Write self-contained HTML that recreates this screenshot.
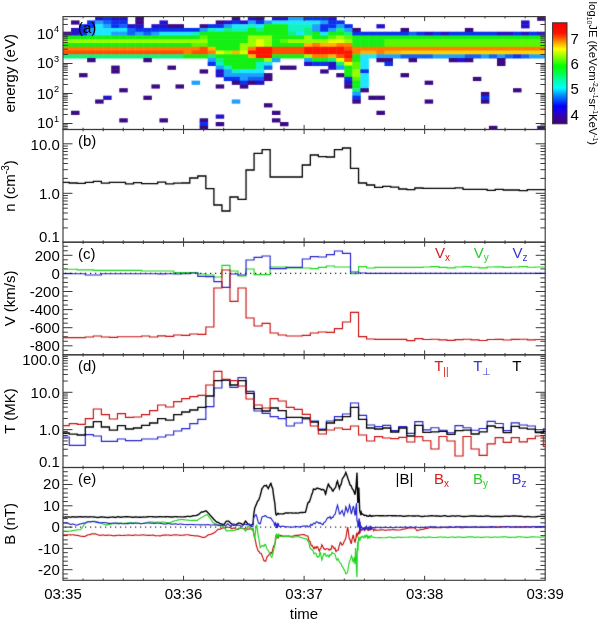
<!DOCTYPE html>
<html><head><meta charset="utf-8"><style>
html,body{margin:0;padding:0;background:#fff;}
svg{display:block;will-change:transform;}
text{font-family:"Liberation Sans",sans-serif;}
</style></head><body>
<svg width="600" height="623" viewBox="0 0 600 623">
<defs><filter id="soft" x="0" y="0" width="600" height="623" filterUnits="userSpaceOnUse" color-interpolation-filters="sRGB"><feConvolveMatrix order="3" kernelMatrix="1 2 1 2 28 2 1 2 1" divisor="40" edgeMode="duplicate"/></filter><clipPath id="clipA"><rect x="63.00" y="16.60" width="482.20" height="112.90"/></clipPath></defs>
<rect x="0" y="0" width="600" height="623" fill="#fff"/>
<g clip-path="url(#clipA)"><g filter="url(#soft)">
<rect x="63.00" y="31.71" width="8.49" height="4.21" fill="#3c0a84"/>
<rect x="63.00" y="35.47" width="8.49" height="4.21" fill="#14f014"/>
<rect x="63.00" y="39.23" width="8.49" height="4.21" fill="#96ff00"/>
<rect x="63.00" y="43.00" width="8.49" height="4.21" fill="#14f014"/>
<rect x="63.00" y="46.76" width="8.49" height="4.21" fill="#ff7e00"/>
<rect x="63.00" y="50.53" width="8.49" height="4.21" fill="#ff4e00"/>
<rect x="63.00" y="54.29" width="8.49" height="4.21" fill="#10f27e"/>
<rect x="71.04" y="20.41" width="8.49" height="4.21" fill="#3c0a84"/>
<rect x="71.04" y="27.94" width="8.49" height="4.21" fill="#2612c8"/>
<rect x="71.04" y="31.71" width="8.49" height="4.21" fill="#2612c8"/>
<rect x="71.04" y="35.47" width="8.49" height="4.21" fill="#14f014"/>
<rect x="71.04" y="39.23" width="8.49" height="4.21" fill="#96ff00"/>
<rect x="71.04" y="43.00" width="8.49" height="4.21" fill="#14f014"/>
<rect x="71.04" y="46.76" width="8.49" height="4.21" fill="#ff7e00"/>
<rect x="71.04" y="50.53" width="8.49" height="4.21" fill="#ff4e00"/>
<rect x="71.04" y="54.29" width="8.49" height="4.21" fill="#10f27e"/>
<rect x="79.07" y="24.18" width="8.49" height="4.21" fill="#0a32f0"/>
<rect x="79.07" y="27.94" width="8.49" height="4.21" fill="#0a32f0"/>
<rect x="79.07" y="31.71" width="8.49" height="4.21" fill="#0a32f0"/>
<rect x="79.07" y="35.47" width="8.49" height="4.21" fill="#14f014"/>
<rect x="79.07" y="39.23" width="8.49" height="4.21" fill="#96ff00"/>
<rect x="79.07" y="43.00" width="8.49" height="4.21" fill="#14f014"/>
<rect x="79.07" y="46.76" width="8.49" height="4.21" fill="#ff7e00"/>
<rect x="79.07" y="50.53" width="8.49" height="4.21" fill="#ff4e00"/>
<rect x="79.07" y="54.29" width="8.49" height="4.21" fill="#10f27e"/>
<rect x="87.11" y="20.41" width="8.49" height="4.21" fill="#0a32f0"/>
<rect x="87.11" y="24.18" width="8.49" height="4.21" fill="#0a32f0"/>
<rect x="87.11" y="27.94" width="8.49" height="4.21" fill="#1ea0ff"/>
<rect x="87.11" y="31.71" width="8.49" height="4.21" fill="#1ea0ff"/>
<rect x="87.11" y="35.47" width="8.49" height="4.21" fill="#14f014"/>
<rect x="87.11" y="39.23" width="8.49" height="4.21" fill="#96ff00"/>
<rect x="87.11" y="43.00" width="8.49" height="4.21" fill="#14f014"/>
<rect x="87.11" y="46.76" width="8.49" height="4.21" fill="#ff7e00"/>
<rect x="87.11" y="50.53" width="8.49" height="4.21" fill="#ff4e00"/>
<rect x="87.11" y="54.29" width="8.49" height="4.21" fill="#10f27e"/>
<rect x="95.15" y="16.65" width="8.49" height="4.21" fill="#2612c8"/>
<rect x="95.15" y="20.41" width="8.49" height="4.21" fill="#1ea0ff"/>
<rect x="95.15" y="24.18" width="8.49" height="4.21" fill="#1ee6ff"/>
<rect x="95.15" y="27.94" width="8.49" height="4.21" fill="#1ee6ff"/>
<rect x="95.15" y="31.71" width="8.49" height="4.21" fill="#1ee6ff"/>
<rect x="95.15" y="35.47" width="8.49" height="4.21" fill="#14f014"/>
<rect x="95.15" y="39.23" width="8.49" height="4.21" fill="#96ff00"/>
<rect x="95.15" y="43.00" width="8.49" height="4.21" fill="#14f014"/>
<rect x="95.15" y="46.76" width="8.49" height="4.21" fill="#ff7e00"/>
<rect x="95.15" y="50.53" width="8.49" height="4.21" fill="#ff4e00"/>
<rect x="95.15" y="54.29" width="8.49" height="4.21" fill="#10f27e"/>
<rect x="103.18" y="16.65" width="8.49" height="4.21" fill="#0a32f0"/>
<rect x="103.18" y="20.41" width="8.49" height="4.21" fill="#1262f8"/>
<rect x="103.18" y="24.18" width="8.49" height="4.21" fill="#1ea0ff"/>
<rect x="103.18" y="27.94" width="8.49" height="4.21" fill="#1ee6ff"/>
<rect x="103.18" y="31.71" width="8.49" height="4.21" fill="#1ee6ff"/>
<rect x="103.18" y="35.47" width="8.49" height="4.21" fill="#14f014"/>
<rect x="103.18" y="39.23" width="8.49" height="4.21" fill="#96ff00"/>
<rect x="103.18" y="43.00" width="8.49" height="4.21" fill="#14f014"/>
<rect x="103.18" y="46.76" width="8.49" height="4.21" fill="#ff7e00"/>
<rect x="103.18" y="50.53" width="8.49" height="4.21" fill="#ff4e00"/>
<rect x="103.18" y="54.29" width="8.49" height="4.21" fill="#10f27e"/>
<rect x="111.22" y="16.65" width="8.49" height="4.21" fill="#2612c8"/>
<rect x="111.22" y="20.41" width="8.49" height="4.21" fill="#0a32f0"/>
<rect x="111.22" y="24.18" width="8.49" height="4.21" fill="#0a32f0"/>
<rect x="111.22" y="27.94" width="8.49" height="4.21" fill="#1ee6ff"/>
<rect x="111.22" y="31.71" width="8.49" height="4.21" fill="#1ea0ff"/>
<rect x="111.22" y="35.47" width="8.49" height="4.21" fill="#14f014"/>
<rect x="111.22" y="39.23" width="8.49" height="4.21" fill="#96ff00"/>
<rect x="111.22" y="43.00" width="8.49" height="4.21" fill="#14f014"/>
<rect x="111.22" y="46.76" width="8.49" height="4.21" fill="#ff7e00"/>
<rect x="111.22" y="50.53" width="8.49" height="4.21" fill="#ff4e00"/>
<rect x="111.22" y="54.29" width="8.49" height="4.21" fill="#10f27e"/>
<rect x="119.26" y="16.65" width="8.49" height="4.21" fill="#2612c8"/>
<rect x="119.26" y="20.41" width="8.49" height="4.21" fill="#0a32f0"/>
<rect x="119.26" y="24.18" width="8.49" height="4.21" fill="#1262f8"/>
<rect x="119.26" y="27.94" width="8.49" height="4.21" fill="#1ee6ff"/>
<rect x="119.26" y="31.71" width="8.49" height="4.21" fill="#1ea0ff"/>
<rect x="119.26" y="35.47" width="8.49" height="4.21" fill="#14f014"/>
<rect x="119.26" y="39.23" width="8.49" height="4.21" fill="#96ff00"/>
<rect x="119.26" y="43.00" width="8.49" height="4.21" fill="#14f014"/>
<rect x="119.26" y="46.76" width="8.49" height="4.21" fill="#ff7e00"/>
<rect x="119.26" y="50.53" width="8.49" height="4.21" fill="#ff4e00"/>
<rect x="119.26" y="54.29" width="8.49" height="4.21" fill="#10f27e"/>
<rect x="127.29" y="24.18" width="8.49" height="4.21" fill="#2612c8"/>
<rect x="127.29" y="27.94" width="8.49" height="4.21" fill="#1262f8"/>
<rect x="127.29" y="31.71" width="8.49" height="4.21" fill="#1262f8"/>
<rect x="127.29" y="35.47" width="8.49" height="4.21" fill="#14f014"/>
<rect x="127.29" y="39.23" width="8.49" height="4.21" fill="#96ff00"/>
<rect x="127.29" y="43.00" width="8.49" height="4.21" fill="#14f014"/>
<rect x="127.29" y="46.76" width="8.49" height="4.21" fill="#ff7e00"/>
<rect x="127.29" y="50.53" width="8.49" height="4.21" fill="#ff4e00"/>
<rect x="127.29" y="54.29" width="8.49" height="4.21" fill="#10f27e"/>
<rect x="135.33" y="16.65" width="8.49" height="4.21" fill="#3c0a84"/>
<rect x="135.33" y="20.41" width="8.49" height="4.21" fill="#3c0a84"/>
<rect x="135.33" y="24.18" width="8.49" height="4.21" fill="#2612c8"/>
<rect x="135.33" y="27.94" width="8.49" height="4.21" fill="#0a32f0"/>
<rect x="135.33" y="31.71" width="8.49" height="4.21" fill="#1ea0ff"/>
<rect x="135.33" y="35.47" width="8.49" height="4.21" fill="#14f014"/>
<rect x="135.33" y="39.23" width="8.49" height="4.21" fill="#96ff00"/>
<rect x="135.33" y="43.00" width="8.49" height="4.21" fill="#14f014"/>
<rect x="135.33" y="46.76" width="8.49" height="4.21" fill="#ff7e00"/>
<rect x="135.33" y="50.53" width="8.49" height="4.21" fill="#ff4e00"/>
<rect x="135.33" y="54.29" width="8.49" height="4.21" fill="#10f27e"/>
<rect x="143.37" y="27.94" width="8.49" height="4.21" fill="#0a32f0"/>
<rect x="143.37" y="31.71" width="8.49" height="4.21" fill="#1262f8"/>
<rect x="143.37" y="35.47" width="8.49" height="4.21" fill="#14f014"/>
<rect x="143.37" y="39.23" width="8.49" height="4.21" fill="#96ff00"/>
<rect x="143.37" y="43.00" width="8.49" height="4.21" fill="#14f014"/>
<rect x="143.37" y="46.76" width="8.49" height="4.21" fill="#ff7e00"/>
<rect x="143.37" y="50.53" width="8.49" height="4.21" fill="#ff4e00"/>
<rect x="143.37" y="54.29" width="8.49" height="4.21" fill="#10f27e"/>
<rect x="151.40" y="24.18" width="8.49" height="4.21" fill="#2612c8"/>
<rect x="151.40" y="27.94" width="8.49" height="4.21" fill="#0a32f0"/>
<rect x="151.40" y="31.71" width="8.49" height="4.21" fill="#1ea0ff"/>
<rect x="151.40" y="35.47" width="8.49" height="4.21" fill="#14f014"/>
<rect x="151.40" y="39.23" width="8.49" height="4.21" fill="#96ff00"/>
<rect x="151.40" y="43.00" width="8.49" height="4.21" fill="#14f014"/>
<rect x="151.40" y="46.76" width="8.49" height="4.21" fill="#ff7e00"/>
<rect x="151.40" y="50.53" width="8.49" height="4.21" fill="#ff4e00"/>
<rect x="151.40" y="54.29" width="8.49" height="4.21" fill="#10f27e"/>
<rect x="159.44" y="20.41" width="8.49" height="4.21" fill="#2612c8"/>
<rect x="159.44" y="24.18" width="8.49" height="4.21" fill="#2612c8"/>
<rect x="159.44" y="27.94" width="8.49" height="4.21" fill="#0a32f0"/>
<rect x="159.44" y="31.71" width="8.49" height="4.21" fill="#1ee6ff"/>
<rect x="159.44" y="35.47" width="8.49" height="4.21" fill="#14f014"/>
<rect x="159.44" y="39.23" width="8.49" height="4.21" fill="#96ff00"/>
<rect x="159.44" y="43.00" width="8.49" height="4.21" fill="#14f014"/>
<rect x="159.44" y="46.76" width="8.49" height="4.21" fill="#ff7e00"/>
<rect x="159.44" y="50.53" width="8.49" height="4.21" fill="#ff4e00"/>
<rect x="159.44" y="54.29" width="8.49" height="4.21" fill="#10f27e"/>
<rect x="167.48" y="24.18" width="8.49" height="4.21" fill="#3c0a84"/>
<rect x="167.48" y="27.94" width="8.49" height="4.21" fill="#0a32f0"/>
<rect x="167.48" y="31.71" width="8.49" height="4.21" fill="#1ee6ff"/>
<rect x="167.48" y="35.47" width="8.49" height="4.21" fill="#14f014"/>
<rect x="167.48" y="39.23" width="8.49" height="4.21" fill="#96ff00"/>
<rect x="167.48" y="43.00" width="8.49" height="4.21" fill="#14f014"/>
<rect x="167.48" y="46.76" width="8.49" height="4.21" fill="#ff7e00"/>
<rect x="167.48" y="50.53" width="8.49" height="4.21" fill="#ff4e00"/>
<rect x="167.48" y="54.29" width="8.49" height="4.21" fill="#10f27e"/>
<rect x="175.51" y="24.18" width="8.49" height="4.21" fill="#3c0a84"/>
<rect x="175.51" y="27.94" width="8.49" height="4.21" fill="#0a32f0"/>
<rect x="175.51" y="31.71" width="8.49" height="4.21" fill="#1ee6ff"/>
<rect x="175.51" y="35.47" width="8.49" height="4.21" fill="#14f014"/>
<rect x="175.51" y="39.23" width="8.49" height="4.21" fill="#96ff00"/>
<rect x="175.51" y="43.00" width="8.49" height="4.21" fill="#14f014"/>
<rect x="175.51" y="46.76" width="8.49" height="4.21" fill="#ff7e00"/>
<rect x="175.51" y="50.53" width="8.49" height="4.21" fill="#ff4e00"/>
<rect x="175.51" y="54.29" width="8.49" height="4.21" fill="#10f27e"/>
<rect x="183.55" y="27.94" width="8.49" height="4.21" fill="#0a32f0"/>
<rect x="183.55" y="31.71" width="8.49" height="4.21" fill="#1ee6ff"/>
<rect x="183.55" y="35.47" width="8.49" height="4.21" fill="#14f014"/>
<rect x="183.55" y="39.23" width="8.49" height="4.21" fill="#96ff00"/>
<rect x="183.55" y="43.00" width="8.49" height="4.21" fill="#14f014"/>
<rect x="183.55" y="46.76" width="8.49" height="4.21" fill="#ff7e00"/>
<rect x="183.55" y="50.53" width="8.49" height="4.21" fill="#ff7e00"/>
<rect x="183.55" y="54.29" width="8.49" height="4.21" fill="#14f014"/>
<rect x="191.59" y="27.94" width="8.49" height="4.21" fill="#0a32f0"/>
<rect x="191.59" y="31.71" width="8.49" height="4.21" fill="#10f2c0"/>
<rect x="191.59" y="35.47" width="8.49" height="4.21" fill="#14f014"/>
<rect x="191.59" y="39.23" width="8.49" height="4.21" fill="#96ff00"/>
<rect x="191.59" y="43.00" width="8.49" height="4.21" fill="#58f800"/>
<rect x="191.59" y="46.76" width="8.49" height="4.21" fill="#ff7e00"/>
<rect x="191.59" y="50.53" width="8.49" height="4.21" fill="#ff4e00"/>
<rect x="191.59" y="54.29" width="8.49" height="4.21" fill="#14f014"/>
<rect x="199.62" y="24.18" width="8.49" height="4.21" fill="#3c0a84"/>
<rect x="199.62" y="27.94" width="8.49" height="4.21" fill="#1ea0ff"/>
<rect x="199.62" y="31.71" width="8.49" height="4.21" fill="#14f014"/>
<rect x="199.62" y="35.47" width="8.49" height="4.21" fill="#58f800"/>
<rect x="199.62" y="39.23" width="8.49" height="4.21" fill="#96ff00"/>
<rect x="199.62" y="43.00" width="8.49" height="4.21" fill="#58f800"/>
<rect x="199.62" y="46.76" width="8.49" height="4.21" fill="#ff4e00"/>
<rect x="199.62" y="50.53" width="8.49" height="4.21" fill="#ff4e00"/>
<rect x="199.62" y="54.29" width="8.49" height="4.21" fill="#14f014"/>
<rect x="207.66" y="24.18" width="8.49" height="4.21" fill="#0a32f0"/>
<rect x="207.66" y="27.94" width="8.49" height="4.21" fill="#10f2c0"/>
<rect x="207.66" y="31.71" width="8.49" height="4.21" fill="#14f014"/>
<rect x="207.66" y="35.47" width="8.49" height="4.21" fill="#14f014"/>
<rect x="207.66" y="39.23" width="8.49" height="4.21" fill="#14f014"/>
<rect x="207.66" y="43.00" width="8.49" height="4.21" fill="#14f014"/>
<rect x="207.66" y="46.76" width="8.49" height="4.21" fill="#ffb400"/>
<rect x="207.66" y="50.53" width="8.49" height="4.21" fill="#ff7e00"/>
<rect x="207.66" y="54.29" width="8.49" height="4.21" fill="#10f27e"/>
<rect x="215.70" y="20.41" width="8.49" height="4.21" fill="#3c0a84"/>
<rect x="215.70" y="24.18" width="8.49" height="4.21" fill="#0a32f0"/>
<rect x="215.70" y="27.94" width="8.49" height="4.21" fill="#1ee6ff"/>
<rect x="215.70" y="31.71" width="8.49" height="4.21" fill="#14f014"/>
<rect x="215.70" y="35.47" width="8.49" height="4.21" fill="#14f014"/>
<rect x="215.70" y="39.23" width="8.49" height="4.21" fill="#14f014"/>
<rect x="215.70" y="43.00" width="8.49" height="4.21" fill="#14f014"/>
<rect x="215.70" y="46.76" width="8.49" height="4.21" fill="#14f014"/>
<rect x="215.70" y="50.53" width="8.49" height="4.21" fill="#e6ff00"/>
<rect x="215.70" y="54.29" width="8.49" height="4.21" fill="#14f014"/>
<rect x="223.73" y="20.41" width="8.49" height="4.21" fill="#2612c8"/>
<rect x="223.73" y="24.18" width="8.49" height="4.21" fill="#1ea0ff"/>
<rect x="223.73" y="27.94" width="8.49" height="4.21" fill="#10f27e"/>
<rect x="223.73" y="31.71" width="8.49" height="4.21" fill="#14f014"/>
<rect x="223.73" y="35.47" width="8.49" height="4.21" fill="#14f014"/>
<rect x="223.73" y="39.23" width="8.49" height="4.21" fill="#14f014"/>
<rect x="223.73" y="43.00" width="8.49" height="4.21" fill="#14f014"/>
<rect x="223.73" y="46.76" width="8.49" height="4.21" fill="#14f014"/>
<rect x="223.73" y="50.53" width="8.49" height="4.21" fill="#96ff00"/>
<rect x="223.73" y="54.29" width="8.49" height="4.21" fill="#14f014"/>
<rect x="231.77" y="16.65" width="8.49" height="4.21" fill="#3c0a84"/>
<rect x="231.77" y="20.41" width="8.49" height="4.21" fill="#0a32f0"/>
<rect x="231.77" y="24.18" width="8.49" height="4.21" fill="#1ee6ff"/>
<rect x="231.77" y="27.94" width="8.49" height="4.21" fill="#10f2c0"/>
<rect x="231.77" y="31.71" width="8.49" height="4.21" fill="#14f014"/>
<rect x="231.77" y="35.47" width="8.49" height="4.21" fill="#14f014"/>
<rect x="231.77" y="39.23" width="8.49" height="4.21" fill="#14f014"/>
<rect x="231.77" y="43.00" width="8.49" height="4.21" fill="#14f014"/>
<rect x="231.77" y="46.76" width="8.49" height="4.21" fill="#14f014"/>
<rect x="231.77" y="50.53" width="8.49" height="4.21" fill="#ffb400"/>
<rect x="231.77" y="54.29" width="8.49" height="4.21" fill="#14f014"/>
<rect x="239.81" y="20.41" width="8.49" height="4.21" fill="#2612c8"/>
<rect x="239.81" y="24.18" width="8.49" height="4.21" fill="#1ee6ff"/>
<rect x="239.81" y="27.94" width="8.49" height="4.21" fill="#10f2c0"/>
<rect x="239.81" y="31.71" width="8.49" height="4.21" fill="#14f014"/>
<rect x="239.81" y="35.47" width="8.49" height="4.21" fill="#14f014"/>
<rect x="239.81" y="39.23" width="8.49" height="4.21" fill="#14f014"/>
<rect x="239.81" y="43.00" width="8.49" height="4.21" fill="#96ff00"/>
<rect x="239.81" y="46.76" width="8.49" height="4.21" fill="#96ff00"/>
<rect x="239.81" y="50.53" width="8.49" height="4.21" fill="#e6ff00"/>
<rect x="239.81" y="54.29" width="8.49" height="4.21" fill="#14f014"/>
<rect x="247.84" y="16.65" width="8.49" height="4.21" fill="#2612c8"/>
<rect x="247.84" y="20.41" width="8.49" height="4.21" fill="#1ea0ff"/>
<rect x="247.84" y="24.18" width="8.49" height="4.21" fill="#10f2c0"/>
<rect x="247.84" y="27.94" width="8.49" height="4.21" fill="#14f014"/>
<rect x="247.84" y="31.71" width="8.49" height="4.21" fill="#14f014"/>
<rect x="247.84" y="35.47" width="8.49" height="4.21" fill="#96ff00"/>
<rect x="247.84" y="39.23" width="8.49" height="4.21" fill="#96ff00"/>
<rect x="247.84" y="43.00" width="8.49" height="4.21" fill="#96ff00"/>
<rect x="247.84" y="46.76" width="8.49" height="4.21" fill="#ff7e00"/>
<rect x="247.84" y="50.53" width="8.49" height="4.21" fill="#ff1400"/>
<rect x="247.84" y="54.29" width="8.49" height="4.21" fill="#ffb400"/>
<rect x="255.88" y="16.65" width="8.49" height="4.21" fill="#3c0a84"/>
<rect x="255.88" y="20.41" width="8.49" height="4.21" fill="#0a32f0"/>
<rect x="255.88" y="24.18" width="8.49" height="4.21" fill="#1ee6ff"/>
<rect x="255.88" y="27.94" width="8.49" height="4.21" fill="#10f27e"/>
<rect x="255.88" y="31.71" width="8.49" height="4.21" fill="#14f014"/>
<rect x="255.88" y="35.47" width="8.49" height="4.21" fill="#96ff00"/>
<rect x="255.88" y="39.23" width="8.49" height="4.21" fill="#e6ff00"/>
<rect x="255.88" y="43.00" width="8.49" height="4.21" fill="#e6ff00"/>
<rect x="255.88" y="46.76" width="8.49" height="4.21" fill="#ff1400"/>
<rect x="255.88" y="50.53" width="8.49" height="4.21" fill="#ff1400"/>
<rect x="255.88" y="54.29" width="8.49" height="4.21" fill="#ff1400"/>
<rect x="263.92" y="20.41" width="8.49" height="4.21" fill="#1ea0ff"/>
<rect x="263.92" y="24.18" width="8.49" height="4.21" fill="#14f014"/>
<rect x="263.92" y="27.94" width="8.49" height="4.21" fill="#14f014"/>
<rect x="263.92" y="31.71" width="8.49" height="4.21" fill="#14f014"/>
<rect x="263.92" y="35.47" width="8.49" height="4.21" fill="#96ff00"/>
<rect x="263.92" y="39.23" width="8.49" height="4.21" fill="#96ff00"/>
<rect x="263.92" y="43.00" width="8.49" height="4.21" fill="#96ff00"/>
<rect x="263.92" y="46.76" width="8.49" height="4.21" fill="#ff1400"/>
<rect x="263.92" y="50.53" width="8.49" height="4.21" fill="#ff1400"/>
<rect x="263.92" y="54.29" width="8.49" height="4.21" fill="#ff1400"/>
<rect x="271.95" y="16.65" width="8.49" height="4.21" fill="#2612c8"/>
<rect x="271.95" y="20.41" width="8.49" height="4.21" fill="#1ee6ff"/>
<rect x="271.95" y="24.18" width="8.49" height="4.21" fill="#14f014"/>
<rect x="271.95" y="27.94" width="8.49" height="4.21" fill="#14f014"/>
<rect x="271.95" y="31.71" width="8.49" height="4.21" fill="#14f014"/>
<rect x="271.95" y="35.47" width="8.49" height="4.21" fill="#14f014"/>
<rect x="271.95" y="39.23" width="8.49" height="4.21" fill="#14f014"/>
<rect x="271.95" y="43.00" width="8.49" height="4.21" fill="#14f014"/>
<rect x="271.95" y="46.76" width="8.49" height="4.21" fill="#ff4e00"/>
<rect x="271.95" y="50.53" width="8.49" height="4.21" fill="#ff4e00"/>
<rect x="271.95" y="54.29" width="8.49" height="4.21" fill="#14f014"/>
<rect x="279.99" y="16.65" width="8.49" height="4.21" fill="#2612c8"/>
<rect x="279.99" y="20.41" width="8.49" height="4.21" fill="#1ee6ff"/>
<rect x="279.99" y="24.18" width="8.49" height="4.21" fill="#14f014"/>
<rect x="279.99" y="27.94" width="8.49" height="4.21" fill="#14f014"/>
<rect x="279.99" y="31.71" width="8.49" height="4.21" fill="#14f014"/>
<rect x="279.99" y="35.47" width="8.49" height="4.21" fill="#14f014"/>
<rect x="279.99" y="39.23" width="8.49" height="4.21" fill="#58f800"/>
<rect x="279.99" y="43.00" width="8.49" height="4.21" fill="#14f014"/>
<rect x="279.99" y="46.76" width="8.49" height="4.21" fill="#ff4e00"/>
<rect x="279.99" y="50.53" width="8.49" height="4.21" fill="#ff4e00"/>
<rect x="279.99" y="54.29" width="8.49" height="4.21" fill="#14f014"/>
<rect x="288.03" y="16.65" width="8.49" height="4.21" fill="#1ea0ff"/>
<rect x="288.03" y="20.41" width="8.49" height="4.21" fill="#1ee6ff"/>
<rect x="288.03" y="24.18" width="8.49" height="4.21" fill="#10f2c0"/>
<rect x="288.03" y="27.94" width="8.49" height="4.21" fill="#10f2c0"/>
<rect x="288.03" y="31.71" width="8.49" height="4.21" fill="#10f27e"/>
<rect x="288.03" y="35.47" width="8.49" height="4.21" fill="#14f014"/>
<rect x="288.03" y="39.23" width="8.49" height="4.21" fill="#96ff00"/>
<rect x="288.03" y="43.00" width="8.49" height="4.21" fill="#14f014"/>
<rect x="288.03" y="46.76" width="8.49" height="4.21" fill="#ff4e00"/>
<rect x="288.03" y="50.53" width="8.49" height="4.21" fill="#ff4e00"/>
<rect x="288.03" y="54.29" width="8.49" height="4.21" fill="#14f014"/>
<rect x="296.06" y="16.65" width="8.49" height="4.21" fill="#1ea0ff"/>
<rect x="296.06" y="20.41" width="8.49" height="4.21" fill="#1ee6ff"/>
<rect x="296.06" y="24.18" width="8.49" height="4.21" fill="#10f2c0"/>
<rect x="296.06" y="27.94" width="8.49" height="4.21" fill="#10f2c0"/>
<rect x="296.06" y="31.71" width="8.49" height="4.21" fill="#1ee6ff"/>
<rect x="296.06" y="35.47" width="8.49" height="4.21" fill="#14f014"/>
<rect x="296.06" y="39.23" width="8.49" height="4.21" fill="#96ff00"/>
<rect x="296.06" y="43.00" width="8.49" height="4.21" fill="#14f014"/>
<rect x="296.06" y="46.76" width="8.49" height="4.21" fill="#ff4e00"/>
<rect x="296.06" y="50.53" width="8.49" height="4.21" fill="#ff4e00"/>
<rect x="296.06" y="54.29" width="8.49" height="4.21" fill="#14f014"/>
<rect x="304.10" y="16.65" width="8.49" height="4.21" fill="#0a32f0"/>
<rect x="304.10" y="20.41" width="8.49" height="4.21" fill="#1ee6ff"/>
<rect x="304.10" y="24.18" width="8.49" height="4.21" fill="#10f2c0"/>
<rect x="304.10" y="27.94" width="8.49" height="4.21" fill="#10f27e"/>
<rect x="304.10" y="31.71" width="8.49" height="4.21" fill="#10f27e"/>
<rect x="304.10" y="35.47" width="8.49" height="4.21" fill="#96ff00"/>
<rect x="304.10" y="39.23" width="8.49" height="4.21" fill="#96ff00"/>
<rect x="304.10" y="43.00" width="8.49" height="4.21" fill="#ffb400"/>
<rect x="304.10" y="46.76" width="8.49" height="4.21" fill="#ff1400"/>
<rect x="304.10" y="50.53" width="8.49" height="4.21" fill="#ff1400"/>
<rect x="304.10" y="54.29" width="8.49" height="4.21" fill="#96ff00"/>
<rect x="312.14" y="16.65" width="8.49" height="4.21" fill="#0a32f0"/>
<rect x="312.14" y="20.41" width="8.49" height="4.21" fill="#1ee6ff"/>
<rect x="312.14" y="24.18" width="8.49" height="4.21" fill="#1ea0ff"/>
<rect x="312.14" y="27.94" width="8.49" height="4.21" fill="#1ea0ff"/>
<rect x="312.14" y="31.71" width="8.49" height="4.21" fill="#14f014"/>
<rect x="312.14" y="35.47" width="8.49" height="4.21" fill="#14f014"/>
<rect x="312.14" y="39.23" width="8.49" height="4.21" fill="#96ff00"/>
<rect x="312.14" y="43.00" width="8.49" height="4.21" fill="#ff7e00"/>
<rect x="312.14" y="46.76" width="8.49" height="4.21" fill="#ff1400"/>
<rect x="312.14" y="50.53" width="8.49" height="4.21" fill="#ff1400"/>
<rect x="312.14" y="54.29" width="8.49" height="4.21" fill="#ff7e00"/>
<rect x="320.17" y="16.65" width="8.49" height="4.21" fill="#0a32f0"/>
<rect x="320.17" y="20.41" width="8.49" height="4.21" fill="#1ea0ff"/>
<rect x="320.17" y="24.18" width="8.49" height="4.21" fill="#0a32f0"/>
<rect x="320.17" y="27.94" width="8.49" height="4.21" fill="#0a32f0"/>
<rect x="320.17" y="31.71" width="8.49" height="4.21" fill="#1ee6ff"/>
<rect x="320.17" y="35.47" width="8.49" height="4.21" fill="#14f014"/>
<rect x="320.17" y="39.23" width="8.49" height="4.21" fill="#96ff00"/>
<rect x="320.17" y="43.00" width="8.49" height="4.21" fill="#ffb400"/>
<rect x="320.17" y="46.76" width="8.49" height="4.21" fill="#ff1400"/>
<rect x="320.17" y="50.53" width="8.49" height="4.21" fill="#ff1400"/>
<rect x="320.17" y="54.29" width="8.49" height="4.21" fill="#ff7e00"/>
<rect x="328.21" y="16.65" width="8.49" height="4.21" fill="#2612c8"/>
<rect x="328.21" y="20.41" width="8.49" height="4.21" fill="#0a32f0"/>
<rect x="328.21" y="24.18" width="8.49" height="4.21" fill="#0a32f0"/>
<rect x="328.21" y="27.94" width="8.49" height="4.21" fill="#1ea0ff"/>
<rect x="328.21" y="31.71" width="8.49" height="4.21" fill="#14f014"/>
<rect x="328.21" y="35.47" width="8.49" height="4.21" fill="#58f800"/>
<rect x="328.21" y="39.23" width="8.49" height="4.21" fill="#e6ff00"/>
<rect x="328.21" y="43.00" width="8.49" height="4.21" fill="#ffb400"/>
<rect x="328.21" y="46.76" width="8.49" height="4.21" fill="#ff1400"/>
<rect x="328.21" y="50.53" width="8.49" height="4.21" fill="#ff1400"/>
<rect x="328.21" y="54.29" width="8.49" height="4.21" fill="#ffb400"/>
<rect x="336.25" y="20.41" width="8.49" height="4.21" fill="#0a32f0"/>
<rect x="336.25" y="24.18" width="8.49" height="4.21" fill="#1ea0ff"/>
<rect x="336.25" y="27.94" width="8.49" height="4.21" fill="#10f27e"/>
<rect x="336.25" y="31.71" width="8.49" height="4.21" fill="#14f014"/>
<rect x="336.25" y="35.47" width="8.49" height="4.21" fill="#96ff00"/>
<rect x="336.25" y="39.23" width="8.49" height="4.21" fill="#e6ff00"/>
<rect x="336.25" y="43.00" width="8.49" height="4.21" fill="#ff7e00"/>
<rect x="336.25" y="46.76" width="8.49" height="4.21" fill="#ff1400"/>
<rect x="336.25" y="50.53" width="8.49" height="4.21" fill="#ff1400"/>
<rect x="336.25" y="54.29" width="8.49" height="4.21" fill="#ff4e00"/>
<rect x="344.28" y="24.18" width="8.49" height="4.21" fill="#0a32f0"/>
<rect x="344.28" y="27.94" width="8.49" height="4.21" fill="#1ea0ff"/>
<rect x="344.28" y="31.71" width="8.49" height="4.21" fill="#10f27e"/>
<rect x="344.28" y="35.47" width="8.49" height="4.21" fill="#58f800"/>
<rect x="344.28" y="39.23" width="8.49" height="4.21" fill="#96ff00"/>
<rect x="344.28" y="43.00" width="8.49" height="4.21" fill="#ff7e00"/>
<rect x="344.28" y="46.76" width="8.49" height="4.21" fill="#ff4e00"/>
<rect x="344.28" y="50.53" width="8.49" height="4.21" fill="#ff1400"/>
<rect x="344.28" y="54.29" width="8.49" height="4.21" fill="#ff1400"/>
<rect x="352.32" y="27.94" width="8.49" height="4.21" fill="#3c0a84"/>
<rect x="352.32" y="31.71" width="8.49" height="4.21" fill="#0a32f0"/>
<rect x="352.32" y="35.47" width="8.49" height="4.21" fill="#14f014"/>
<rect x="352.32" y="39.23" width="8.49" height="4.21" fill="#14f014"/>
<rect x="352.32" y="43.00" width="8.49" height="4.21" fill="#14f014"/>
<rect x="352.32" y="46.76" width="8.49" height="4.21" fill="#ff7e00"/>
<rect x="352.32" y="50.53" width="8.49" height="4.21" fill="#ff7e00"/>
<rect x="352.32" y="54.29" width="8.49" height="4.21" fill="#14f014"/>
<rect x="360.36" y="31.71" width="8.49" height="4.21" fill="#0a32f0"/>
<rect x="360.36" y="35.47" width="8.49" height="4.21" fill="#14f014"/>
<rect x="360.36" y="39.23" width="8.49" height="4.21" fill="#14f014"/>
<rect x="360.36" y="43.00" width="8.49" height="4.21" fill="#14f014"/>
<rect x="360.36" y="46.76" width="8.49" height="4.21" fill="#ff7e00"/>
<rect x="360.36" y="50.53" width="8.49" height="4.21" fill="#ffb400"/>
<rect x="360.36" y="54.29" width="8.49" height="4.21" fill="#1ee6ff"/>
<rect x="368.39" y="31.71" width="8.49" height="4.21" fill="#0a32f0"/>
<rect x="368.39" y="35.47" width="8.49" height="4.21" fill="#14f014"/>
<rect x="368.39" y="39.23" width="8.49" height="4.21" fill="#14f014"/>
<rect x="368.39" y="43.00" width="8.49" height="4.21" fill="#14f014"/>
<rect x="368.39" y="46.76" width="8.49" height="4.21" fill="#ff7e00"/>
<rect x="368.39" y="50.53" width="8.49" height="4.21" fill="#ffb400"/>
<rect x="368.39" y="54.29" width="8.49" height="4.21" fill="#1ee6ff"/>
<rect x="376.43" y="24.18" width="8.49" height="4.21" fill="#2612c8"/>
<rect x="376.43" y="31.71" width="8.49" height="4.21" fill="#0a32f0"/>
<rect x="376.43" y="35.47" width="8.49" height="4.21" fill="#14f014"/>
<rect x="376.43" y="39.23" width="8.49" height="4.21" fill="#14f014"/>
<rect x="376.43" y="43.00" width="8.49" height="4.21" fill="#14f014"/>
<rect x="376.43" y="46.76" width="8.49" height="4.21" fill="#ff7e00"/>
<rect x="376.43" y="50.53" width="8.49" height="4.21" fill="#ff7e00"/>
<rect x="376.43" y="54.29" width="8.49" height="4.21" fill="#1ea0ff"/>
<rect x="384.47" y="31.71" width="8.49" height="4.21" fill="#0a32f0"/>
<rect x="384.47" y="35.47" width="8.49" height="4.21" fill="#14f014"/>
<rect x="384.47" y="39.23" width="8.49" height="4.21" fill="#58f800"/>
<rect x="384.47" y="43.00" width="8.49" height="4.21" fill="#58f800"/>
<rect x="384.47" y="46.76" width="8.49" height="4.21" fill="#ff7e00"/>
<rect x="384.47" y="50.53" width="8.49" height="4.21" fill="#ffb400"/>
<rect x="384.47" y="54.29" width="8.49" height="4.21" fill="#1ea0ff"/>
<rect x="392.50" y="31.71" width="8.49" height="4.21" fill="#0a32f0"/>
<rect x="392.50" y="35.47" width="8.49" height="4.21" fill="#14f014"/>
<rect x="392.50" y="39.23" width="8.49" height="4.21" fill="#58f800"/>
<rect x="392.50" y="43.00" width="8.49" height="4.21" fill="#58f800"/>
<rect x="392.50" y="46.76" width="8.49" height="4.21" fill="#ff7e00"/>
<rect x="392.50" y="50.53" width="8.49" height="4.21" fill="#ffb400"/>
<rect x="392.50" y="54.29" width="8.49" height="4.21" fill="#1ea0ff"/>
<rect x="400.54" y="27.94" width="8.49" height="4.21" fill="#3c0a84"/>
<rect x="400.54" y="31.71" width="8.49" height="4.21" fill="#0a32f0"/>
<rect x="400.54" y="35.47" width="8.49" height="4.21" fill="#14f014"/>
<rect x="400.54" y="39.23" width="8.49" height="4.21" fill="#58f800"/>
<rect x="400.54" y="43.00" width="8.49" height="4.21" fill="#58f800"/>
<rect x="400.54" y="46.76" width="8.49" height="4.21" fill="#ff7e00"/>
<rect x="400.54" y="50.53" width="8.49" height="4.21" fill="#ffd400"/>
<rect x="400.54" y="54.29" width="8.49" height="4.21" fill="#1262f8"/>
<rect x="408.58" y="31.71" width="8.49" height="4.21" fill="#1262f8"/>
<rect x="408.58" y="35.47" width="8.49" height="4.21" fill="#14f014"/>
<rect x="408.58" y="39.23" width="8.49" height="4.21" fill="#58f800"/>
<rect x="408.58" y="43.00" width="8.49" height="4.21" fill="#58f800"/>
<rect x="408.58" y="46.76" width="8.49" height="4.21" fill="#ff7e00"/>
<rect x="408.58" y="50.53" width="8.49" height="4.21" fill="#ffd400"/>
<rect x="408.58" y="54.29" width="8.49" height="4.21" fill="#1262f8"/>
<rect x="416.61" y="31.71" width="8.49" height="4.21" fill="#0a32f0"/>
<rect x="416.61" y="35.47" width="8.49" height="4.21" fill="#14f014"/>
<rect x="416.61" y="39.23" width="8.49" height="4.21" fill="#58f800"/>
<rect x="416.61" y="43.00" width="8.49" height="4.21" fill="#58f800"/>
<rect x="416.61" y="46.76" width="8.49" height="4.21" fill="#ff7e00"/>
<rect x="416.61" y="50.53" width="8.49" height="4.21" fill="#ffd400"/>
<rect x="416.61" y="54.29" width="8.49" height="4.21" fill="#1262f8"/>
<rect x="424.65" y="31.71" width="8.49" height="4.21" fill="#2612c8"/>
<rect x="424.65" y="35.47" width="8.49" height="4.21" fill="#14f014"/>
<rect x="424.65" y="39.23" width="8.49" height="4.21" fill="#58f800"/>
<rect x="424.65" y="43.00" width="8.49" height="4.21" fill="#58f800"/>
<rect x="424.65" y="46.76" width="8.49" height="4.21" fill="#ff7e00"/>
<rect x="424.65" y="50.53" width="8.49" height="4.21" fill="#ffd400"/>
<rect x="424.65" y="54.29" width="8.49" height="4.21" fill="#1262f8"/>
<rect x="432.69" y="31.71" width="8.49" height="4.21" fill="#0a32f0"/>
<rect x="432.69" y="35.47" width="8.49" height="4.21" fill="#14f014"/>
<rect x="432.69" y="39.23" width="8.49" height="4.21" fill="#58f800"/>
<rect x="432.69" y="43.00" width="8.49" height="4.21" fill="#58f800"/>
<rect x="432.69" y="46.76" width="8.49" height="4.21" fill="#ff7e00"/>
<rect x="432.69" y="50.53" width="8.49" height="4.21" fill="#ffd400"/>
<rect x="432.69" y="54.29" width="8.49" height="4.21" fill="#1ea0ff"/>
<rect x="440.72" y="31.71" width="8.49" height="4.21" fill="#2612c8"/>
<rect x="440.72" y="35.47" width="8.49" height="4.21" fill="#14f014"/>
<rect x="440.72" y="39.23" width="8.49" height="4.21" fill="#58f800"/>
<rect x="440.72" y="43.00" width="8.49" height="4.21" fill="#58f800"/>
<rect x="440.72" y="46.76" width="8.49" height="4.21" fill="#ff7e00"/>
<rect x="440.72" y="50.53" width="8.49" height="4.21" fill="#ffd400"/>
<rect x="440.72" y="54.29" width="8.49" height="4.21" fill="#1ea0ff"/>
<rect x="448.76" y="31.71" width="8.49" height="4.21" fill="#0a32f0"/>
<rect x="448.76" y="35.47" width="8.49" height="4.21" fill="#14f014"/>
<rect x="448.76" y="39.23" width="8.49" height="4.21" fill="#58f800"/>
<rect x="448.76" y="43.00" width="8.49" height="4.21" fill="#58f800"/>
<rect x="448.76" y="46.76" width="8.49" height="4.21" fill="#ff7e00"/>
<rect x="448.76" y="50.53" width="8.49" height="4.21" fill="#ffd400"/>
<rect x="448.76" y="54.29" width="8.49" height="4.21" fill="#1ea0ff"/>
<rect x="456.80" y="31.71" width="8.49" height="4.21" fill="#0a32f0"/>
<rect x="456.80" y="35.47" width="8.49" height="4.21" fill="#14f014"/>
<rect x="456.80" y="39.23" width="8.49" height="4.21" fill="#58f800"/>
<rect x="456.80" y="43.00" width="8.49" height="4.21" fill="#58f800"/>
<rect x="456.80" y="46.76" width="8.49" height="4.21" fill="#ff7e00"/>
<rect x="456.80" y="50.53" width="8.49" height="4.21" fill="#ffd400"/>
<rect x="456.80" y="54.29" width="8.49" height="4.21" fill="#1ea0ff"/>
<rect x="464.83" y="27.94" width="8.49" height="4.21" fill="#3c0a84"/>
<rect x="464.83" y="31.71" width="8.49" height="4.21" fill="#0a32f0"/>
<rect x="464.83" y="35.47" width="8.49" height="4.21" fill="#14f014"/>
<rect x="464.83" y="39.23" width="8.49" height="4.21" fill="#58f800"/>
<rect x="464.83" y="43.00" width="8.49" height="4.21" fill="#58f800"/>
<rect x="464.83" y="46.76" width="8.49" height="4.21" fill="#ff7e00"/>
<rect x="464.83" y="50.53" width="8.49" height="4.21" fill="#ffd400"/>
<rect x="464.83" y="54.29" width="8.49" height="4.21" fill="#1262f8"/>
<rect x="472.87" y="31.71" width="8.49" height="4.21" fill="#0a32f0"/>
<rect x="472.87" y="35.47" width="8.49" height="4.21" fill="#14f014"/>
<rect x="472.87" y="39.23" width="8.49" height="4.21" fill="#58f800"/>
<rect x="472.87" y="43.00" width="8.49" height="4.21" fill="#58f800"/>
<rect x="472.87" y="46.76" width="8.49" height="4.21" fill="#ff7e00"/>
<rect x="472.87" y="50.53" width="8.49" height="4.21" fill="#ffd400"/>
<rect x="472.87" y="54.29" width="8.49" height="4.21" fill="#1262f8"/>
<rect x="480.91" y="31.71" width="8.49" height="4.21" fill="#0a32f0"/>
<rect x="480.91" y="35.47" width="8.49" height="4.21" fill="#14f014"/>
<rect x="480.91" y="39.23" width="8.49" height="4.21" fill="#58f800"/>
<rect x="480.91" y="43.00" width="8.49" height="4.21" fill="#58f800"/>
<rect x="480.91" y="46.76" width="8.49" height="4.21" fill="#ff7e00"/>
<rect x="480.91" y="50.53" width="8.49" height="4.21" fill="#ffd400"/>
<rect x="480.91" y="54.29" width="8.49" height="4.21" fill="#1ea0ff"/>
<rect x="488.94" y="31.71" width="8.49" height="4.21" fill="#0a32f0"/>
<rect x="488.94" y="35.47" width="8.49" height="4.21" fill="#14f014"/>
<rect x="488.94" y="39.23" width="8.49" height="4.21" fill="#58f800"/>
<rect x="488.94" y="43.00" width="8.49" height="4.21" fill="#58f800"/>
<rect x="488.94" y="46.76" width="8.49" height="4.21" fill="#ff7e00"/>
<rect x="488.94" y="50.53" width="8.49" height="4.21" fill="#ffd400"/>
<rect x="488.94" y="54.29" width="8.49" height="4.21" fill="#1262f8"/>
<rect x="496.98" y="31.71" width="8.49" height="4.21" fill="#2612c8"/>
<rect x="496.98" y="35.47" width="8.49" height="4.21" fill="#14f014"/>
<rect x="496.98" y="39.23" width="8.49" height="4.21" fill="#58f800"/>
<rect x="496.98" y="43.00" width="8.49" height="4.21" fill="#58f800"/>
<rect x="496.98" y="46.76" width="8.49" height="4.21" fill="#ff7e00"/>
<rect x="496.98" y="50.53" width="8.49" height="4.21" fill="#ffd400"/>
<rect x="496.98" y="54.29" width="8.49" height="4.21" fill="#1ea0ff"/>
<rect x="505.02" y="31.71" width="8.49" height="4.21" fill="#2612c8"/>
<rect x="505.02" y="35.47" width="8.49" height="4.21" fill="#14f014"/>
<rect x="505.02" y="39.23" width="8.49" height="4.21" fill="#58f800"/>
<rect x="505.02" y="43.00" width="8.49" height="4.21" fill="#58f800"/>
<rect x="505.02" y="46.76" width="8.49" height="4.21" fill="#ff7e00"/>
<rect x="505.02" y="50.53" width="8.49" height="4.21" fill="#ffd400"/>
<rect x="505.02" y="54.29" width="8.49" height="4.21" fill="#1262f8"/>
<rect x="513.05" y="31.71" width="8.49" height="4.21" fill="#0a32f0"/>
<rect x="513.05" y="35.47" width="8.49" height="4.21" fill="#14f014"/>
<rect x="513.05" y="39.23" width="8.49" height="4.21" fill="#58f800"/>
<rect x="513.05" y="43.00" width="8.49" height="4.21" fill="#58f800"/>
<rect x="513.05" y="46.76" width="8.49" height="4.21" fill="#ff7e00"/>
<rect x="513.05" y="50.53" width="8.49" height="4.21" fill="#ffd400"/>
<rect x="513.05" y="54.29" width="8.49" height="4.21" fill="#0a32f0"/>
<rect x="521.09" y="20.41" width="8.49" height="4.21" fill="#2612c8"/>
<rect x="521.09" y="24.18" width="8.49" height="4.21" fill="#2612c8"/>
<rect x="521.09" y="31.71" width="8.49" height="4.21" fill="#2612c8"/>
<rect x="521.09" y="35.47" width="8.49" height="4.21" fill="#14f014"/>
<rect x="521.09" y="39.23" width="8.49" height="4.21" fill="#58f800"/>
<rect x="521.09" y="43.00" width="8.49" height="4.21" fill="#58f800"/>
<rect x="521.09" y="46.76" width="8.49" height="4.21" fill="#ff7e00"/>
<rect x="521.09" y="50.53" width="8.49" height="4.21" fill="#ffd400"/>
<rect x="521.09" y="54.29" width="8.49" height="4.21" fill="#1262f8"/>
<rect x="529.13" y="31.71" width="8.49" height="4.21" fill="#0a32f0"/>
<rect x="529.13" y="35.47" width="8.49" height="4.21" fill="#14f014"/>
<rect x="529.13" y="39.23" width="8.49" height="4.21" fill="#58f800"/>
<rect x="529.13" y="43.00" width="8.49" height="4.21" fill="#58f800"/>
<rect x="529.13" y="46.76" width="8.49" height="4.21" fill="#ff7e00"/>
<rect x="529.13" y="50.53" width="8.49" height="4.21" fill="#ffd400"/>
<rect x="529.13" y="54.29" width="8.49" height="4.21" fill="#1ea0ff"/>
<rect x="537.16" y="16.65" width="8.49" height="4.21" fill="#3c0a84"/>
<rect x="537.16" y="31.71" width="8.49" height="4.21" fill="#2612c8"/>
<rect x="537.16" y="35.47" width="8.49" height="4.21" fill="#14f014"/>
<rect x="537.16" y="39.23" width="8.49" height="4.21" fill="#58f800"/>
<rect x="537.16" y="43.00" width="8.49" height="4.21" fill="#58f800"/>
<rect x="537.16" y="46.76" width="8.49" height="4.21" fill="#ff7e00"/>
<rect x="537.16" y="50.53" width="8.49" height="4.21" fill="#ffd400"/>
<rect x="537.16" y="54.29" width="8.49" height="4.21" fill="#1ea0ff"/>
<rect x="79.07" y="73.11" width="8.49" height="4.21" fill="#3c0a84"/>
<rect x="87.11" y="58.05" width="8.49" height="4.21" fill="#3c0a84"/>
<rect x="95.15" y="99.46" width="8.49" height="4.21" fill="#3c0a84"/>
<rect x="103.18" y="95.69" width="8.49" height="4.21" fill="#2612c8"/>
<rect x="111.22" y="65.58" width="8.49" height="4.21" fill="#3c0a84"/>
<rect x="111.22" y="69.35" width="8.49" height="4.21" fill="#3c0a84"/>
<rect x="119.26" y="88.17" width="8.49" height="4.21" fill="#3c0a84"/>
<rect x="119.26" y="118.28" width="8.49" height="4.21" fill="#3c0a84"/>
<rect x="143.37" y="58.05" width="8.49" height="4.21" fill="#3c0a84"/>
<rect x="143.37" y="95.69" width="8.49" height="4.21" fill="#3c0a84"/>
<rect x="151.40" y="84.40" width="8.49" height="4.21" fill="#3c0a84"/>
<rect x="159.44" y="118.28" width="8.49" height="4.21" fill="#3c0a84"/>
<rect x="167.48" y="65.58" width="8.49" height="4.21" fill="#3c0a84"/>
<rect x="175.51" y="84.40" width="8.49" height="4.21" fill="#3c0a84"/>
<rect x="191.59" y="80.64" width="8.49" height="4.21" fill="#1ea0ff"/>
<rect x="199.62" y="69.35" width="8.49" height="4.21" fill="#3c0a84"/>
<rect x="199.62" y="118.28" width="8.49" height="4.21" fill="#3c0a84"/>
<rect x="199.62" y="122.04" width="8.49" height="4.21" fill="#0a32f0"/>
<rect x="199.62" y="125.81" width="8.49" height="4.21" fill="#3c0a84"/>
<rect x="71.04" y="110.75" width="8.49" height="4.21" fill="#3c0a84"/>
<rect x="207.66" y="58.05" width="8.49" height="4.21" fill="#1ea0ff"/>
<rect x="207.66" y="61.82" width="8.49" height="4.21" fill="#0a32f0"/>
<rect x="215.70" y="58.05" width="8.49" height="4.21" fill="#10f27e"/>
<rect x="215.70" y="61.82" width="8.49" height="4.21" fill="#10f2c0"/>
<rect x="215.70" y="65.58" width="8.49" height="4.21" fill="#1ea0ff"/>
<rect x="215.70" y="69.35" width="8.49" height="4.21" fill="#2612c8"/>
<rect x="215.70" y="73.11" width="8.49" height="4.21" fill="#2612c8"/>
<rect x="215.70" y="84.40" width="8.49" height="4.21" fill="#3c0a84"/>
<rect x="215.70" y="114.51" width="8.49" height="4.21" fill="#2612c8"/>
<rect x="215.70" y="122.04" width="8.49" height="4.21" fill="#3c0a84"/>
<rect x="223.73" y="58.05" width="8.49" height="4.21" fill="#14f014"/>
<rect x="223.73" y="61.82" width="8.49" height="4.21" fill="#14f014"/>
<rect x="223.73" y="65.58" width="8.49" height="4.21" fill="#10f2c0"/>
<rect x="223.73" y="69.35" width="8.49" height="4.21" fill="#1ea0ff"/>
<rect x="223.73" y="73.11" width="8.49" height="4.21" fill="#1ea0ff"/>
<rect x="223.73" y="76.87" width="8.49" height="4.21" fill="#0a32f0"/>
<rect x="231.77" y="58.05" width="8.49" height="4.21" fill="#14f014"/>
<rect x="231.77" y="61.82" width="8.49" height="4.21" fill="#14f014"/>
<rect x="231.77" y="65.58" width="8.49" height="4.21" fill="#14f014"/>
<rect x="231.77" y="69.35" width="8.49" height="4.21" fill="#10f2c0"/>
<rect x="231.77" y="73.11" width="8.49" height="4.21" fill="#1ea0ff"/>
<rect x="231.77" y="76.87" width="8.49" height="4.21" fill="#0a32f0"/>
<rect x="231.77" y="80.64" width="8.49" height="4.21" fill="#3c0a84"/>
<rect x="231.77" y="99.46" width="8.49" height="4.21" fill="#1ea0ff"/>
<rect x="239.81" y="58.05" width="8.49" height="4.21" fill="#14f014"/>
<rect x="239.81" y="61.82" width="8.49" height="4.21" fill="#14f014"/>
<rect x="239.81" y="65.58" width="8.49" height="4.21" fill="#14f014"/>
<rect x="239.81" y="69.35" width="8.49" height="4.21" fill="#1ee6ff"/>
<rect x="239.81" y="73.11" width="8.49" height="4.21" fill="#1ea0ff"/>
<rect x="239.81" y="76.87" width="8.49" height="4.21" fill="#1ea0ff"/>
<rect x="239.81" y="80.64" width="8.49" height="4.21" fill="#0a32f0"/>
<rect x="239.81" y="84.40" width="8.49" height="4.21" fill="#3c0a84"/>
<rect x="247.84" y="58.05" width="8.49" height="4.21" fill="#14f014"/>
<rect x="247.84" y="61.82" width="8.49" height="4.21" fill="#14f014"/>
<rect x="247.84" y="65.58" width="8.49" height="4.21" fill="#14f014"/>
<rect x="247.84" y="69.35" width="8.49" height="4.21" fill="#1ee6ff"/>
<rect x="247.84" y="73.11" width="8.49" height="4.21" fill="#1ea0ff"/>
<rect x="247.84" y="76.87" width="8.49" height="4.21" fill="#1262f8"/>
<rect x="247.84" y="80.64" width="8.49" height="4.21" fill="#3c0a84"/>
<rect x="255.88" y="58.05" width="8.49" height="4.21" fill="#14f014"/>
<rect x="255.88" y="61.82" width="8.49" height="4.21" fill="#10f2c0"/>
<rect x="255.88" y="65.58" width="8.49" height="4.21" fill="#10f2c0"/>
<rect x="255.88" y="69.35" width="8.49" height="4.21" fill="#1ee6ff"/>
<rect x="255.88" y="73.11" width="8.49" height="4.21" fill="#1ea0ff"/>
<rect x="255.88" y="76.87" width="8.49" height="4.21" fill="#1262f8"/>
<rect x="255.88" y="80.64" width="8.49" height="4.21" fill="#2612c8"/>
<rect x="263.92" y="58.05" width="8.49" height="4.21" fill="#96ff00"/>
<rect x="263.92" y="61.82" width="8.49" height="4.21" fill="#1ee6ff"/>
<rect x="263.92" y="65.58" width="8.49" height="4.21" fill="#1262f8"/>
<rect x="263.92" y="73.11" width="8.49" height="4.21" fill="#3c0a84"/>
<rect x="263.92" y="76.87" width="8.49" height="4.21" fill="#3c0a84"/>
<rect x="263.92" y="103.22" width="8.49" height="4.21" fill="#3c0a84"/>
<rect x="271.95" y="58.05" width="8.49" height="4.21" fill="#1ea0ff"/>
<rect x="271.95" y="110.75" width="8.49" height="4.21" fill="#3c0a84"/>
<rect x="271.95" y="118.28" width="8.49" height="4.21" fill="#3c0a84"/>
<rect x="279.99" y="65.58" width="8.49" height="4.21" fill="#3c0a84"/>
<rect x="279.99" y="122.04" width="8.49" height="4.21" fill="#3c0a84"/>
<rect x="288.03" y="65.58" width="8.49" height="4.21" fill="#3c0a84"/>
<rect x="304.10" y="58.05" width="8.49" height="4.21" fill="#1ea0ff"/>
<rect x="304.10" y="61.82" width="8.49" height="4.21" fill="#2612c8"/>
<rect x="312.14" y="58.05" width="8.49" height="4.21" fill="#14f014"/>
<rect x="312.14" y="61.82" width="8.49" height="4.21" fill="#0a32f0"/>
<rect x="320.17" y="58.05" width="8.49" height="4.21" fill="#14f014"/>
<rect x="320.17" y="61.82" width="8.49" height="4.21" fill="#0a32f0"/>
<rect x="320.17" y="69.35" width="8.49" height="4.21" fill="#3c0a84"/>
<rect x="328.21" y="58.05" width="8.49" height="4.21" fill="#10f27e"/>
<rect x="328.21" y="61.82" width="8.49" height="4.21" fill="#2612c8"/>
<rect x="328.21" y="65.58" width="8.49" height="4.21" fill="#2612c8"/>
<rect x="336.25" y="58.05" width="8.49" height="4.21" fill="#e6ff00"/>
<rect x="336.25" y="61.82" width="8.49" height="4.21" fill="#10f27e"/>
<rect x="336.25" y="65.58" width="8.49" height="4.21" fill="#1ea0ff"/>
<rect x="336.25" y="73.11" width="8.49" height="4.21" fill="#3c0a84"/>
<rect x="344.28" y="58.05" width="8.49" height="4.21" fill="#ff4e00"/>
<rect x="344.28" y="61.82" width="8.49" height="4.21" fill="#e6ff00"/>
<rect x="344.28" y="65.58" width="8.49" height="4.21" fill="#14f014"/>
<rect x="344.28" y="69.35" width="8.49" height="4.21" fill="#14f014"/>
<rect x="344.28" y="73.11" width="8.49" height="4.21" fill="#14f014"/>
<rect x="344.28" y="76.87" width="8.49" height="4.21" fill="#0a32f0"/>
<rect x="344.28" y="80.64" width="8.49" height="4.21" fill="#2612c8"/>
<rect x="344.28" y="84.40" width="8.49" height="4.21" fill="#3c0a84"/>
<rect x="352.32" y="58.05" width="8.49" height="4.21" fill="#14f014"/>
<rect x="352.32" y="61.82" width="8.49" height="4.21" fill="#58f800"/>
<rect x="352.32" y="65.58" width="8.49" height="4.21" fill="#58f800"/>
<rect x="352.32" y="69.35" width="8.49" height="4.21" fill="#96ff00"/>
<rect x="352.32" y="73.11" width="8.49" height="4.21" fill="#96ff00"/>
<rect x="352.32" y="76.87" width="8.49" height="4.21" fill="#58f800"/>
<rect x="352.32" y="80.64" width="8.49" height="4.21" fill="#14f014"/>
<rect x="352.32" y="84.40" width="8.49" height="4.21" fill="#14f014"/>
<rect x="352.32" y="88.17" width="8.49" height="4.21" fill="#10f27e"/>
<rect x="352.32" y="91.93" width="8.49" height="4.21" fill="#1ea0ff"/>
<rect x="352.32" y="95.69" width="8.49" height="4.21" fill="#0a32f0"/>
<rect x="352.32" y="99.46" width="8.49" height="4.21" fill="#3c0a84"/>
<rect x="360.36" y="58.05" width="8.49" height="4.21" fill="#1ee6ff"/>
<rect x="360.36" y="61.82" width="8.49" height="4.21" fill="#1ee6ff"/>
<rect x="360.36" y="65.58" width="8.49" height="4.21" fill="#1ee6ff"/>
<rect x="360.36" y="69.35" width="8.49" height="4.21" fill="#0a32f0"/>
<rect x="360.36" y="73.11" width="8.49" height="4.21" fill="#1ee6ff"/>
<rect x="360.36" y="76.87" width="8.49" height="4.21" fill="#1ee6ff"/>
<rect x="360.36" y="80.64" width="8.49" height="4.21" fill="#1ee6ff"/>
<rect x="360.36" y="84.40" width="8.49" height="4.21" fill="#1ee6ff"/>
<rect x="360.36" y="88.17" width="8.49" height="4.21" fill="#3c0a84"/>
<rect x="368.39" y="95.69" width="8.49" height="4.21" fill="#3c0a84"/>
<rect x="376.43" y="58.05" width="8.49" height="4.21" fill="#3c0a84"/>
<rect x="376.43" y="95.69" width="8.49" height="4.21" fill="#3c0a84"/>
<rect x="376.43" y="110.75" width="8.49" height="4.21" fill="#3c0a84"/>
<rect x="384.47" y="58.05" width="8.49" height="4.21" fill="#3c0a84"/>
<rect x="384.47" y="61.82" width="8.49" height="4.21" fill="#0a32f0"/>
<rect x="400.54" y="73.11" width="8.49" height="4.21" fill="#3c0a84"/>
<rect x="408.58" y="58.05" width="8.49" height="4.21" fill="#3c0a84"/>
<rect x="424.65" y="80.64" width="8.49" height="4.21" fill="#3c0a84"/>
<rect x="424.65" y="99.46" width="8.49" height="4.21" fill="#3c0a84"/>
<rect x="448.76" y="58.05" width="8.49" height="4.21" fill="#3c0a84"/>
<rect x="456.80" y="58.05" width="8.49" height="4.21" fill="#2612c8"/>
<rect x="464.83" y="58.05" width="8.49" height="4.21" fill="#3c0a84"/>
<rect x="472.87" y="76.87" width="8.49" height="4.21" fill="#3c0a84"/>
<rect x="480.91" y="91.93" width="8.49" height="4.21" fill="#3c0a84"/>
<rect x="480.91" y="95.69" width="8.49" height="4.21" fill="#0a32f0"/>
<rect x="480.91" y="99.46" width="8.49" height="4.21" fill="#3c0a84"/>
<rect x="488.94" y="125.81" width="8.49" height="4.21" fill="#3c0a84"/>
<rect x="496.98" y="58.05" width="8.49" height="4.21" fill="#3c0a84"/>
<rect x="496.98" y="61.82" width="8.49" height="4.21" fill="#3c0a84"/>
<rect x="513.05" y="88.17" width="8.49" height="4.21" fill="#3c0a84"/>
<rect x="537.16" y="125.81" width="8.49" height="4.21" fill="#3c0a84"/>
</g></g>
<path d="M63.00 123.50h9.5M545.20 123.50h-9.5M63.00 93.50h9.5M545.20 93.50h-9.5M63.00 63.50h9.5M545.20 63.50h-9.5M63.00 33.50h9.5M545.20 33.50h-9.5M63.00 128.15h4.8M545.20 128.15h-4.8M63.00 126.41h4.8M545.20 126.41h-4.8M63.00 124.87h4.8M545.20 124.87h-4.8M63.00 114.47h4.8M545.20 114.47h-4.8M63.00 109.19h4.8M545.20 109.19h-4.8M63.00 105.44h4.8M545.20 105.44h-4.8M63.00 102.53h4.8M545.20 102.53h-4.8M63.00 100.16h4.8M545.20 100.16h-4.8M63.00 98.15h4.8M545.20 98.15h-4.8M63.00 96.41h4.8M545.20 96.41h-4.8M63.00 94.87h4.8M545.20 94.87h-4.8M63.00 84.47h4.8M545.20 84.47h-4.8M63.00 79.19h4.8M545.20 79.19h-4.8M63.00 75.44h4.8M545.20 75.44h-4.8M63.00 72.53h4.8M545.20 72.53h-4.8M63.00 70.16h4.8M545.20 70.16h-4.8M63.00 68.15h4.8M545.20 68.15h-4.8M63.00 66.41h4.8M545.20 66.41h-4.8M63.00 64.87h4.8M545.20 64.87h-4.8M63.00 54.47h4.8M545.20 54.47h-4.8M63.00 49.19h4.8M545.20 49.19h-4.8M63.00 45.44h4.8M545.20 45.44h-4.8M63.00 42.53h4.8M545.20 42.53h-4.8M63.00 40.16h4.8M545.20 40.16h-4.8M63.00 38.15h4.8M545.20 38.15h-4.8M63.00 36.41h4.8M545.20 36.41h-4.8M63.00 34.87h4.8M545.20 34.87h-4.8M63.00 24.47h4.8M545.20 24.47h-4.8M63.00 19.19h4.8M545.20 19.19h-4.8" stroke="#3a3a3a" stroke-width="1" fill="none"/>
<text x="53.7" y="38.70" font-size="15" text-anchor="end" font-family="Liberation Sans, sans-serif">10</text>
<text x="54.0" y="32.40" font-size="9.2" font-family="Liberation Sans, sans-serif">4</text>
<text x="53.7" y="68.40" font-size="15" text-anchor="end" font-family="Liberation Sans, sans-serif">10</text>
<text x="54.0" y="62.10" font-size="9.2" font-family="Liberation Sans, sans-serif">3</text>
<text x="53.7" y="98.50" font-size="15" text-anchor="end" font-family="Liberation Sans, sans-serif">10</text>
<text x="54.0" y="92.20" font-size="9.2" font-family="Liberation Sans, sans-serif">2</text>
<text x="53.7" y="128.00" font-size="15" text-anchor="end" font-family="Liberation Sans, sans-serif">10</text>
<text x="54.0" y="121.70" font-size="9.2" font-family="Liberation Sans, sans-serif">1</text>
<path d="M63.00 193.30h9.5M545.20 193.30h-9.5M63.00 143.80h9.5M545.20 143.80h-9.5M63.00 227.90h4.8M545.20 227.90h-4.8M63.00 219.18h4.8M545.20 219.18h-4.8M63.00 213.00h4.8M545.20 213.00h-4.8M63.00 208.20h4.8M545.20 208.20h-4.8M63.00 204.28h4.8M545.20 204.28h-4.8M63.00 200.97h4.8M545.20 200.97h-4.8M63.00 198.10h4.8M545.20 198.10h-4.8M63.00 195.56h4.8M545.20 195.56h-4.8M63.00 178.40h4.8M545.20 178.40h-4.8M63.00 169.68h4.8M545.20 169.68h-4.8M63.00 163.50h4.8M545.20 163.50h-4.8M63.00 158.70h4.8M545.20 158.70h-4.8M63.00 154.78h4.8M545.20 154.78h-4.8M63.00 151.47h4.8M545.20 151.47h-4.8M63.00 148.60h4.8M545.20 148.60h-4.8M63.00 146.06h4.8M545.20 146.06h-4.8" stroke="#3a3a3a" stroke-width="1" fill="none"/>
<text x="59.80" y="150.00" font-size="15" text-anchor="end" font-family="Liberation Sans, sans-serif">10.0</text>
<text x="59.80" y="199.10" font-size="15" text-anchor="end" font-family="Liberation Sans, sans-serif">1.0</text>
<text x="59.80" y="242.20" font-size="15" text-anchor="end" font-family="Liberation Sans, sans-serif">0.1</text>
<path d="M63.00 345.80h9.5M545.20 345.80h-9.5M63.00 327.70h9.5M545.20 327.70h-9.5M63.00 309.60h9.5M545.20 309.60h-9.5M63.00 291.50h9.5M545.20 291.50h-9.5M63.00 273.40h9.5M545.20 273.40h-9.5M63.00 255.30h9.5M545.20 255.30h-9.5M63.00 350.32h4.8M545.20 350.32h-4.8M63.00 341.27h4.8M545.20 341.27h-4.8M63.00 336.75h4.8M545.20 336.75h-4.8M63.00 332.22h4.8M545.20 332.22h-4.8M63.00 323.17h4.8M545.20 323.17h-4.8M63.00 318.65h4.8M545.20 318.65h-4.8M63.00 314.12h4.8M545.20 314.12h-4.8M63.00 305.07h4.8M545.20 305.07h-4.8M63.00 300.55h4.8M545.20 300.55h-4.8M63.00 296.02h4.8M545.20 296.02h-4.8M63.00 286.97h4.8M545.20 286.97h-4.8M63.00 282.45h4.8M545.20 282.45h-4.8M63.00 277.92h4.8M545.20 277.92h-4.8M63.00 268.88h4.8M545.20 268.88h-4.8M63.00 264.35h4.8M545.20 264.35h-4.8M63.00 259.82h4.8M545.20 259.82h-4.8M63.00 250.77h4.8M545.20 250.77h-4.8M63.00 246.25h4.8M545.20 246.25h-4.8" stroke="#3a3a3a" stroke-width="1" fill="none"/>
<text x="59.80" y="260.50" font-size="15" text-anchor="end" font-family="Liberation Sans, sans-serif">200</text>
<text x="59.80" y="278.80" font-size="15" text-anchor="end" font-family="Liberation Sans, sans-serif">0</text>
<text x="59.80" y="296.70" font-size="15" text-anchor="end" font-family="Liberation Sans, sans-serif">-200</text>
<text x="59.80" y="314.90" font-size="15" text-anchor="end" font-family="Liberation Sans, sans-serif">-400</text>
<text x="59.80" y="333.00" font-size="15" text-anchor="end" font-family="Liberation Sans, sans-serif">-600</text>
<text x="59.80" y="351.20" font-size="15" text-anchor="end" font-family="Liberation Sans, sans-serif">-800</text>
<path d="M63.00 429.70h9.5M545.20 429.70h-9.5M63.00 392.30h9.5M545.20 392.30h-9.5M63.00 455.84h4.8M545.20 455.84h-4.8M63.00 449.26h4.8M545.20 449.26h-4.8M63.00 444.58h4.8M545.20 444.58h-4.8M63.00 440.96h4.8M545.20 440.96h-4.8M63.00 438.00h4.8M545.20 438.00h-4.8M63.00 435.49h4.8M545.20 435.49h-4.8M63.00 433.32h4.8M545.20 433.32h-4.8M63.00 431.41h4.8M545.20 431.41h-4.8M63.00 418.44h4.8M545.20 418.44h-4.8M63.00 411.86h4.8M545.20 411.86h-4.8M63.00 407.18h4.8M545.20 407.18h-4.8M63.00 403.56h4.8M545.20 403.56h-4.8M63.00 400.60h4.8M545.20 400.60h-4.8M63.00 398.09h4.8M545.20 398.09h-4.8M63.00 395.92h4.8M545.20 395.92h-4.8M63.00 394.01h4.8M545.20 394.01h-4.8M63.00 381.04h4.8M545.20 381.04h-4.8M63.00 374.46h4.8M545.20 374.46h-4.8M63.00 369.78h4.8M545.20 369.78h-4.8M63.00 366.16h4.8M545.20 366.16h-4.8M63.00 363.20h4.8M545.20 363.20h-4.8M63.00 360.69h4.8M545.20 360.69h-4.8M63.00 358.52h4.8M545.20 358.52h-4.8M63.00 356.61h4.8M545.20 356.61h-4.8" stroke="#3a3a3a" stroke-width="1" fill="none"/>
<text x="59.80" y="364.80" font-size="15" text-anchor="end" font-family="Liberation Sans, sans-serif">100.0</text>
<text x="59.80" y="397.90" font-size="15" text-anchor="end" font-family="Liberation Sans, sans-serif">10.0</text>
<text x="59.80" y="435.00" font-size="15" text-anchor="end" font-family="Liberation Sans, sans-serif">1.0</text>
<text x="59.80" y="467.00" font-size="15" text-anchor="end" font-family="Liberation Sans, sans-serif">0.1</text>
<path d="M63.00 569.70h9.5M545.20 569.70h-9.5M63.00 548.40h9.5M545.20 548.40h-9.5M63.00 527.10h9.5M545.20 527.10h-9.5M63.00 505.80h9.5M545.20 505.80h-9.5M63.00 484.50h9.5M545.20 484.50h-9.5M63.00 578.22h4.8M545.20 578.22h-4.8M63.00 573.96h4.8M545.20 573.96h-4.8M63.00 565.44h4.8M545.20 565.44h-4.8M63.00 561.18h4.8M545.20 561.18h-4.8M63.00 556.92h4.8M545.20 556.92h-4.8M63.00 552.66h4.8M545.20 552.66h-4.8M63.00 544.14h4.8M545.20 544.14h-4.8M63.00 539.88h4.8M545.20 539.88h-4.8M63.00 535.62h4.8M545.20 535.62h-4.8M63.00 531.36h4.8M545.20 531.36h-4.8M63.00 522.84h4.8M545.20 522.84h-4.8M63.00 518.58h4.8M545.20 518.58h-4.8M63.00 514.32h4.8M545.20 514.32h-4.8M63.00 510.06h4.8M545.20 510.06h-4.8M63.00 501.54h4.8M545.20 501.54h-4.8M63.00 497.28h4.8M545.20 497.28h-4.8M63.00 493.02h4.8M545.20 493.02h-4.8M63.00 488.76h4.8M545.20 488.76h-4.8M63.00 480.24h4.8M545.20 480.24h-4.8M63.00 475.98h4.8M545.20 475.98h-4.8M63.00 471.72h4.8M545.20 471.72h-4.8" stroke="#3a3a3a" stroke-width="1" fill="none"/>
<text x="59.80" y="489.40" font-size="15" text-anchor="end" font-family="Liberation Sans, sans-serif">20</text>
<text x="59.80" y="511.00" font-size="15" text-anchor="end" font-family="Liberation Sans, sans-serif">10</text>
<text x="59.80" y="532.30" font-size="15" text-anchor="end" font-family="Liberation Sans, sans-serif">0</text>
<text x="59.80" y="553.50" font-size="15" text-anchor="end" font-family="Liberation Sans, sans-serif">-10</text>
<text x="59.80" y="574.60" font-size="15" text-anchor="end" font-family="Liberation Sans, sans-serif">-20</text>
<path d="M83.09 129.50v-1.80M83.09 16.60v1.80M103.18 129.50v-1.80M103.18 16.60v1.80M123.28 129.50v-1.80M123.28 16.60v1.80M143.37 129.50v-1.80M143.37 16.60v1.80M163.46 129.50v-1.80M163.46 16.60v1.80M183.55 129.50v-4.50M183.55 16.60v4.50M203.64 129.50v-1.80M203.64 16.60v1.80M223.73 129.50v-1.80M223.73 16.60v1.80M243.83 129.50v-1.80M243.83 16.60v1.80M263.92 129.50v-1.80M263.92 16.60v1.80M284.01 129.50v-1.80M284.01 16.60v1.80M304.10 129.50v-4.50M304.10 16.60v4.50M324.19 129.50v-1.80M324.19 16.60v1.80M344.28 129.50v-1.80M344.28 16.60v1.80M364.38 129.50v-1.80M364.38 16.60v1.80M384.47 129.50v-1.80M384.47 16.60v1.80M404.56 129.50v-1.80M404.56 16.60v1.80M424.65 129.50v-4.50M424.65 16.60v4.50M444.74 129.50v-1.80M444.74 16.60v1.80M464.83 129.50v-1.80M464.83 16.60v1.80M484.93 129.50v-1.80M484.93 16.60v1.80M505.02 129.50v-1.80M505.02 16.60v1.80M525.11 129.50v-1.80M525.11 16.60v1.80" stroke="#3a3a3a" stroke-width="1" fill="none"/>
<path d="M83.09 242.20v-1.80M83.09 129.50v1.80M103.18 242.20v-1.80M103.18 129.50v1.80M123.28 242.20v-1.80M123.28 129.50v1.80M143.37 242.20v-1.80M143.37 129.50v1.80M163.46 242.20v-1.80M163.46 129.50v1.80M183.55 242.20v-4.50M183.55 129.50v4.50M203.64 242.20v-1.80M203.64 129.50v1.80M223.73 242.20v-1.80M223.73 129.50v1.80M243.83 242.20v-1.80M243.83 129.50v1.80M263.92 242.20v-1.80M263.92 129.50v1.80M284.01 242.20v-1.80M284.01 129.50v1.80M304.10 242.20v-4.50M304.10 129.50v4.50M324.19 242.20v-1.80M324.19 129.50v1.80M344.28 242.20v-1.80M344.28 129.50v1.80M364.38 242.20v-1.80M364.38 129.50v1.80M384.47 242.20v-1.80M384.47 129.50v1.80M404.56 242.20v-1.80M404.56 129.50v1.80M424.65 242.20v-4.50M424.65 129.50v4.50M444.74 242.20v-1.80M444.74 129.50v1.80M464.83 242.20v-1.80M464.83 129.50v1.80M484.93 242.20v-1.80M484.93 129.50v1.80M505.02 242.20v-1.80M505.02 129.50v1.80M525.11 242.20v-1.80M525.11 129.50v1.80" stroke="#3a3a3a" stroke-width="1" fill="none"/>
<path d="M83.09 354.80v-1.80M83.09 242.20v1.80M103.18 354.80v-1.80M103.18 242.20v1.80M123.28 354.80v-1.80M123.28 242.20v1.80M143.37 354.80v-1.80M143.37 242.20v1.80M163.46 354.80v-1.80M163.46 242.20v1.80M183.55 354.80v-4.50M183.55 242.20v4.50M203.64 354.80v-1.80M203.64 242.20v1.80M223.73 354.80v-1.80M223.73 242.20v1.80M243.83 354.80v-1.80M243.83 242.20v1.80M263.92 354.80v-1.80M263.92 242.20v1.80M284.01 354.80v-1.80M284.01 242.20v1.80M304.10 354.80v-4.50M304.10 242.20v4.50M324.19 354.80v-1.80M324.19 242.20v1.80M344.28 354.80v-1.80M344.28 242.20v1.80M364.38 354.80v-1.80M364.38 242.20v1.80M384.47 354.80v-1.80M384.47 242.20v1.80M404.56 354.80v-1.80M404.56 242.20v1.80M424.65 354.80v-4.50M424.65 242.20v4.50M444.74 354.80v-1.80M444.74 242.20v1.80M464.83 354.80v-1.80M464.83 242.20v1.80M484.93 354.80v-1.80M484.93 242.20v1.80M505.02 354.80v-1.80M505.02 242.20v1.80M525.11 354.80v-1.80M525.11 242.20v1.80" stroke="#3a3a3a" stroke-width="1" fill="none"/>
<path d="M83.09 467.50v-1.80M83.09 354.80v1.80M103.18 467.50v-1.80M103.18 354.80v1.80M123.28 467.50v-1.80M123.28 354.80v1.80M143.37 467.50v-1.80M143.37 354.80v1.80M163.46 467.50v-1.80M163.46 354.80v1.80M183.55 467.50v-4.50M183.55 354.80v4.50M203.64 467.50v-1.80M203.64 354.80v1.80M223.73 467.50v-1.80M223.73 354.80v1.80M243.83 467.50v-1.80M243.83 354.80v1.80M263.92 467.50v-1.80M263.92 354.80v1.80M284.01 467.50v-1.80M284.01 354.80v1.80M304.10 467.50v-4.50M304.10 354.80v4.50M324.19 467.50v-1.80M324.19 354.80v1.80M344.28 467.50v-1.80M344.28 354.80v1.80M364.38 467.50v-1.80M364.38 354.80v1.80M384.47 467.50v-1.80M384.47 354.80v1.80M404.56 467.50v-1.80M404.56 354.80v1.80M424.65 467.50v-4.50M424.65 354.80v4.50M444.74 467.50v-1.80M444.74 354.80v1.80M464.83 467.50v-1.80M464.83 354.80v1.80M484.93 467.50v-1.80M484.93 354.80v1.80M505.02 467.50v-1.80M505.02 354.80v1.80M525.11 467.50v-1.80M525.11 354.80v1.80" stroke="#3a3a3a" stroke-width="1" fill="none"/>
<path d="M83.09 580.30v-1.80M83.09 467.50v1.80M103.18 580.30v-1.80M103.18 467.50v1.80M123.28 580.30v-1.80M123.28 467.50v1.80M143.37 580.30v-1.80M143.37 467.50v1.80M163.46 580.30v-1.80M163.46 467.50v1.80M183.55 580.30v-4.50M183.55 467.50v4.50M203.64 580.30v-1.80M203.64 467.50v1.80M223.73 580.30v-1.80M223.73 467.50v1.80M243.83 580.30v-1.80M243.83 467.50v1.80M263.92 580.30v-1.80M263.92 467.50v1.80M284.01 580.30v-1.80M284.01 467.50v1.80M304.10 580.30v-4.50M304.10 467.50v4.50M324.19 580.30v-1.80M324.19 467.50v1.80M344.28 580.30v-1.80M344.28 467.50v1.80M364.38 580.30v-1.80M364.38 467.50v1.80M384.47 580.30v-1.80M384.47 467.50v1.80M404.56 580.30v-1.80M404.56 467.50v1.80M424.65 580.30v-4.50M424.65 467.50v4.50M444.74 580.30v-1.80M444.74 467.50v1.80M464.83 580.30v-1.80M464.83 467.50v1.80M484.93 580.30v-1.80M484.93 467.50v1.80M505.02 580.30v-1.80M505.02 467.50v1.80M525.11 580.30v-1.80M525.11 467.50v1.80" stroke="#3a3a3a" stroke-width="1" fill="none"/>
<rect x="63.00" y="16.60" width="482.20" height="112.90" fill="none" stroke="#3a3a3a" stroke-width="1.15"/>
<rect x="63.00" y="129.50" width="482.20" height="112.70" fill="none" stroke="#3a3a3a" stroke-width="1.15"/>
<rect x="63.00" y="242.20" width="482.20" height="112.60" fill="none" stroke="#3a3a3a" stroke-width="1.15"/>
<rect x="63.00" y="354.80" width="482.20" height="112.70" fill="none" stroke="#3a3a3a" stroke-width="1.15"/>
<rect x="63.00" y="467.50" width="482.20" height="112.80" fill="none" stroke="#3a3a3a" stroke-width="1.15"/>
<text x="63.00" y="599.2" font-size="15" text-anchor="middle" font-family="Liberation Sans, sans-serif">03:35</text>
<text x="183.55" y="599.2" font-size="15" text-anchor="middle" font-family="Liberation Sans, sans-serif">03:36</text>
<text x="304.10" y="599.2" font-size="15" text-anchor="middle" font-family="Liberation Sans, sans-serif">03:37</text>
<text x="424.65" y="599.2" font-size="15" text-anchor="middle" font-family="Liberation Sans, sans-serif">03:38</text>
<text x="545.20" y="599.2" font-size="15" text-anchor="middle" font-family="Liberation Sans, sans-serif">03:39</text>
<text x="304" y="618.6" font-size="15" text-anchor="middle" font-family="Liberation Sans, sans-serif">time</text>
<text x="77.9" y="32.90" font-size="15" font-family="Liberation Sans, sans-serif">(a)</text>
<text x="77.9" y="145.80" font-size="15" font-family="Liberation Sans, sans-serif">(b)</text>
<text x="77.9" y="258.50" font-size="15" font-family="Liberation Sans, sans-serif">(c)</text>
<text x="77.9" y="371.10" font-size="15" font-family="Liberation Sans, sans-serif">(d)</text>
<text x="77.9" y="483.80" font-size="15" font-family="Liberation Sans, sans-serif">(e)</text>
<text transform="translate(15.0,73.30) rotate(-90)" font-size="15" text-anchor="middle" font-family="Liberation Sans, sans-serif">energy (eV)</text>
<text transform="translate(15.0,186.00) rotate(-90)" font-size="15" text-anchor="middle" font-family="Liberation Sans, sans-serif">n (cm<tspan font-size="10" dy="-6">-3</tspan><tspan dy="6">)</tspan></text>
<text transform="translate(15.0,298.40) rotate(-90)" font-size="15" text-anchor="middle" font-family="Liberation Sans, sans-serif">V (km/s)</text>
<text transform="translate(15.0,411.00) rotate(-90)" font-size="15" text-anchor="middle" font-family="Liberation Sans, sans-serif">T (MK)</text>
<text transform="translate(15.0,523.90) rotate(-90)" font-size="15" text-anchor="middle" font-family="Liberation Sans, sans-serif">B (nT)</text>
<g filter="url(#soft)">
<path d="M63.00 182.40H69.24V183.00H77.27V183.40H85.31V182.40H93.35V181.40H101.38V183.20H109.42V182.40H117.46V182.40H125.49V183.80H133.53V182.60H141.57V183.60H149.60V183.60H157.64V182.20H165.68V183.80H173.71V183.20H181.75V183.00H189.79V178.00H197.82V176.00H205.86V188.60H213.90V205.00H221.93V211.00H229.97V197.00H238.01V199.40H246.04V170.00H254.08V153.40H262.12V149.60H270.15V177.00H278.19V177.00H286.23V177.00H294.26V177.00H302.30V165.00H310.34V155.00H318.37V156.60H326.41V157.00H334.45V149.60H342.48V148.00H350.52V168.40H358.56V183.00H366.59V185.00H374.63V187.40H382.67V186.40H390.70V187.20H398.74V189.00H406.78V189.60H414.81V188.00H422.85V188.30H430.89V188.30H438.92V188.30H446.96V188.30H455.00V187.90H463.03V189.30H471.07V189.30H479.11V189.30H487.14V190.40H495.18V189.30H503.22V190.00H511.25V190.00H519.29V190.60H527.33V189.70H535.36V189.70H545.20" stroke="#000000" stroke-width="1.30" fill="none" stroke-linejoin="miter"/>
<path d="M63.00 269.20H69.24V269.20H77.27V269.90H85.31V269.90H93.35V270.40H101.38V270.40H109.42V270.40H117.46V270.40H125.49V270.40H133.53V270.40H141.57V271.00H149.60V271.00H157.64V271.00H165.68V271.00H173.71V272.60H181.75V272.60H189.79V272.60H197.82V274.00H205.86V275.00H213.90V277.00H221.93V265.40H229.97V271.00H238.01V276.00H246.04V269.00H254.08V274.60H262.12V274.60H270.15V267.00H278.19V267.00H286.23V268.00H294.26V268.00H302.30V268.00H310.34V268.60H318.37V267.40H326.41V266.00H334.45V267.00H342.48V267.00H350.52V273.60H358.56V266.60H366.59V268.00H374.63V267.40H382.67V267.40H390.70V267.40H398.74V267.40H406.78V267.40H414.81V267.40H422.85V267.00H430.89V266.60H438.92V267.40H446.96V267.80H455.00V267.00H463.03V266.60H471.07V267.20H479.11V267.80H487.14V267.00H495.18V266.80H503.22V267.40H511.25V267.00H519.29V266.60H527.33V267.20H535.36V267.00H545.20" stroke="#1ed41e" stroke-width="1.15" fill="none" stroke-linejoin="miter"/>
<path d="M63.00 273.70H69.24V273.70H77.27V273.70H85.31V275.00H93.35V275.00H101.38V273.70H109.42V273.70H117.46V273.70H125.49V273.70H133.53V273.70H141.57V273.70H149.60V273.70H157.64V273.90H165.68V273.70H173.71V274.00H181.75V273.70H189.79V273.00H197.82V276.40H205.86V276.60H213.90V281.60H221.93V287.40H229.97V274.00H238.01V275.00H246.04V260.00H254.08V257.40H262.12V256.00H270.15V268.60H278.19V268.60H286.23V267.40H294.26V267.40H302.30V259.00H310.34V256.60H318.37V257.00H326.41V254.60H334.45V251.00H342.48V253.40H350.52V272.00H358.56V273.00H366.59V273.40H374.63V273.40H382.67V273.40H390.70V273.40H398.74V273.40H406.78V273.40H414.81V273.40H422.85V273.40H430.89V273.40H438.92V273.40H446.96V273.40H455.00V273.40H463.03V273.40H471.07V273.40H479.11V273.40H487.14V273.40H495.18V273.40H503.22V273.40H511.25V273.40H519.29V273.40H527.33V273.40H535.36V273.40H545.20" stroke="#2424cc" stroke-width="1.15" fill="none" stroke-linejoin="miter"/>
<path d="M63.00 337.60H69.24V337.60H77.27V337.60H85.31V337.00H93.35V336.00H101.38V337.00H109.42V337.40H117.46V336.70H125.49V336.70H133.53V336.70H141.57V336.00H149.60V337.00H157.64V335.80H165.68V336.30H173.71V335.00H181.75V335.40H189.79V334.00H197.82V334.40H205.86V327.00H213.90V288.00H221.93V270.00H229.97V301.40H238.01V288.00H246.04V318.00H254.08V326.00H262.12V323.40H270.15V333.00H278.19V335.00H286.23V336.00H294.26V336.00H302.30V335.40H310.34V333.00H318.37V332.00H326.41V332.40H334.45V328.60H342.48V322.00H350.52V312.40H358.56V336.60H366.59V339.00H374.63V339.40H382.67V339.40H390.70V339.40H398.74V339.40H406.78V340.60H414.81V338.60H422.85V339.50H430.89V339.20H438.92V339.80H446.96V340.40H455.00V339.60H463.03V339.20H471.07V339.80H479.11V340.50H487.14V339.50H495.18V339.30H503.22V340.00H511.25V339.40H519.29V339.20H527.33V339.80H535.36V339.50H545.20" stroke="#c81010" stroke-width="1.15" fill="none" stroke-linejoin="miter"/>
<path d="M65.00 273.40H545.20" stroke="#111" stroke-width="1.1" stroke-dasharray="1.2 3.8" fill="none"/>
<path d="M63.00 437.00H69.24V445.40H77.27V445.40H85.31V434.60H93.35V436.00H101.38V441.40H109.42V441.40H117.46V439.00H125.49V440.60H133.53V440.60H141.57V439.00H149.60V439.00H157.64V437.00H165.68V435.00H173.71V431.00H181.75V428.60H189.79V423.60H197.82V419.40H205.86V406.60H213.90V388.00H221.93V380.00H229.97V387.40H238.01V377.60H246.04V391.40H254.08V411.00H262.12V413.40H270.15V416.60H278.19V418.60H286.23V426.00H294.26V423.00H302.30V419.00H310.34V421.00H318.37V429.00H326.41V421.00H334.45V416.60H342.48V414.00H350.52V403.00H358.56V415.40H366.59V425.00H374.63V426.60H382.67V425.40H390.70V430.60H398.74V426.60H406.78V433.40H414.81V421.60H422.85V429.80H430.89V427.70H438.92V430.20H446.96V432.70H455.00V425.60H463.03V427.70H471.07V430.20H479.11V428.50H487.14V421.40H495.18V423.50H503.22V430.60H511.25V422.90H519.29V425.00H527.33V426.00H535.36V431.90H543.40V428.80H545.20" stroke="#2424cc" stroke-width="1.15" fill="none" stroke-linejoin="miter"/>
<path d="M63.00 433.00H69.24V434.20H77.27V435.00H85.31V427.00H93.35V421.60H101.38V427.00H109.42V430.20H117.46V425.60H125.49V429.00H133.53V428.00H141.57V425.40H149.60V423.00H157.64V418.60H165.68V420.20H173.71V414.60H181.75V412.00H189.79V410.00H197.82V407.40H205.86V396.00H213.90V380.60H221.93V380.00H229.97V385.00H238.01V380.60H246.04V393.40H254.08V408.60H262.12V411.00H270.15V408.00H278.19V410.60H286.23V417.40H294.26V417.40H302.30V418.00H310.34V422.00H318.37V430.00H326.41V423.00H334.45V420.00H342.48V416.60H350.52V407.40H358.56V419.40H366.59V428.00H374.63V429.00H382.67V428.00H390.70V432.00H398.74V428.00H406.78V436.00H414.81V425.40H422.85V432.30H430.89V431.90H438.92V431.30H446.96V434.40H455.00V430.60H463.03V430.20H471.07V434.00H479.11V431.90H487.14V426.00H495.18V427.70H503.22V432.70H511.25V426.40H519.29V428.10H527.33V429.20H535.36V432.70H543.40V431.50H545.20" stroke="#000000" stroke-width="1.30" fill="none" stroke-linejoin="miter"/>
<path d="M63.00 425.60H69.24V423.60H77.27V424.40H85.31V418.60H93.35V409.00H101.38V414.60H109.42V419.00H117.46V413.60H125.49V417.40H133.53V417.00H141.57V414.60H149.60V410.60H157.64V405.00H165.68V407.00H173.71V401.60H181.75V398.60H189.79V396.60H197.82V395.40H205.86V385.00H213.90V371.40H221.93V379.40H229.97V380.60H238.01V386.00H246.04V399.00H254.08V405.00H262.12V408.00H270.15V398.60H278.19V401.00H286.23V407.40H294.26V409.40H302.30V414.40H310.34V426.00H318.37V434.00H326.41V430.00H334.45V428.00H342.48V429.40H350.52V426.00H358.56V435.00H366.59V441.00H374.63V436.60H382.67V438.00H390.70V438.60H398.74V437.40H406.78V442.00H414.81V436.60H422.85V440.70H430.89V449.00H438.92V436.50H446.96V441.00H455.00V456.00H463.03V436.50H471.07V449.00H479.11V455.40H487.14V443.90H495.18V437.60H503.22V442.40H511.25V437.60H519.29V441.80H527.33V438.60H535.36V436.00H543.40V446.50H545.20" stroke="#c81010" stroke-width="1.15" fill="none" stroke-linejoin="miter"/>
<path d="M65.00 527.10H545.20" stroke="#222" stroke-width="1.1" stroke-dasharray="1.2 3.8" fill="none"/>
<path d="M63.00 517.20L63.50 517.17L64.00 517.13L64.50 517.10L65.00 517.06L65.50 517.03L66.00 517.00L66.50 516.96L67.00 516.93L67.50 516.90L68.00 516.86L68.50 516.94L69.00 517.01L69.50 517.08L70.00 517.16L70.50 517.23L71.00 517.13L71.50 517.04L72.00 516.94L72.50 516.84L73.00 516.74L73.50 516.81L74.00 516.88L74.50 516.95L75.00 517.01L75.50 517.08L76.00 517.05L76.50 517.02L77.00 516.98L77.50 516.95L78.00 516.92L78.50 516.86L79.00 516.81L79.50 516.75L80.00 516.70L80.50 516.65L81.00 516.73L81.50 516.81L82.00 516.89L82.50 516.97L83.00 517.05L83.50 516.98L84.00 516.92L84.50 516.85L85.00 516.78L85.50 516.71L86.00 516.78L86.50 516.85L87.00 516.93L87.50 517.00L88.00 517.07L88.50 517.02L89.00 516.97L89.50 516.91L90.00 516.86L90.50 516.81L91.00 516.82L91.50 516.84L92.00 516.85L92.50 516.86L93.00 516.87L93.50 516.93L94.00 516.99L94.50 517.05L95.00 517.11L95.50 517.17L96.00 517.24L96.50 517.32L97.00 517.39L97.50 517.46L98.00 517.53L98.50 517.43L99.00 517.32L99.50 517.22L100.00 517.11L100.50 516.99L101.00 517.00L101.50 517.01L102.00 517.02L102.50 517.03L103.00 517.03L103.50 517.09L104.00 517.15L104.50 517.21L105.00 517.26L105.50 517.32L106.00 517.36L106.50 517.41L107.00 517.45L107.50 517.49L108.00 517.54L108.50 517.47L109.00 517.40L109.50 517.34L110.00 517.27L110.50 517.20L111.00 517.17L111.50 517.13L112.00 517.10L112.50 517.06L113.00 517.02L113.50 517.11L114.00 517.19L114.50 517.28L115.00 517.36L115.50 517.45L116.00 517.29L116.50 517.14L117.00 516.98L117.50 516.82L118.00 516.67L118.50 516.79L119.00 516.91L119.50 517.03L120.00 517.16L120.50 517.29L121.00 517.21L121.50 517.12L122.00 517.03L122.50 516.95L123.00 516.86L123.50 516.84L124.00 516.83L124.50 516.81L125.00 516.79L125.50 516.77L126.00 516.77L126.50 516.77L127.00 516.77L127.50 516.77L128.00 516.77L128.50 516.81L129.00 516.85L129.50 516.88L130.00 516.92L130.50 516.95L131.00 517.04L131.50 517.12L132.00 517.21L132.50 517.30L133.00 517.38L133.50 517.29L134.00 517.19L134.50 517.09L135.00 517.00L135.50 516.90L136.00 516.97L136.50 517.04L137.00 517.11L137.50 517.18L138.00 517.25L138.50 517.26L139.00 517.27L139.50 517.29L140.00 517.30L140.50 517.30L141.00 517.25L141.50 517.20L142.00 517.14L142.50 517.09L143.00 517.04L143.50 517.06L144.00 517.07L144.50 517.09L145.00 517.11L145.50 517.13L146.00 517.04L146.50 516.95L147.00 516.87L147.50 516.78L148.00 516.69L148.50 516.68L149.00 516.67L149.50 516.66L150.00 516.65L150.50 516.64L151.00 516.65L151.50 516.66L152.00 516.68L152.50 516.69L153.00 516.70L153.50 516.77L154.00 516.84L154.50 516.90L155.00 516.97L155.50 517.03L156.00 516.98L156.50 516.93L157.00 516.88L157.50 516.83L158.00 516.78L158.50 516.75L159.00 516.73L159.50 516.70L160.00 516.67L160.50 516.65L161.00 516.69L161.50 516.74L162.00 516.78L162.50 516.83L163.00 516.87L163.50 516.85L164.00 516.83L164.50 516.80L165.00 516.78L165.50 516.76L166.00 516.74L166.50 516.71L167.00 516.69L167.50 516.66L168.00 516.64L168.50 516.72L169.00 516.80L169.50 516.88L170.00 516.96L170.50 517.04L171.00 517.02L171.50 517.00L172.00 516.99L172.50 516.97L173.00 516.96L173.50 516.89L174.00 516.81L174.50 516.74L175.00 516.67L175.50 516.60L176.00 516.65L176.50 516.70L177.00 516.75L177.50 516.81L178.00 516.86L178.50 516.85L179.00 516.84L179.50 516.84L180.00 516.83L180.50 516.80L181.00 516.83L181.50 516.86L182.00 516.89L182.50 516.92L183.00 516.95L183.50 516.90L184.00 516.85L184.50 516.81L185.00 516.76L185.50 516.71L186.00 516.61L186.50 516.52L187.00 516.42L187.50 516.33L188.00 516.23L188.50 516.32L189.00 516.40L189.50 516.49L190.00 516.57L190.50 516.63L191.00 516.44L191.50 516.25L192.00 516.06L192.50 515.87L193.00 515.68L193.50 515.68L194.00 515.68L194.50 515.67L195.00 515.67L195.50 515.67L195.80 515.67L196.00 515.59L196.50 515.38L197.00 515.18L197.50 514.98L198.00 514.77L198.50 514.42L199.00 514.07L199.30 513.85L199.50 513.67L200.00 513.22L200.50 512.77L201.00 512.47L201.50 512.17L201.70 512.05L202.00 512.02L202.50 511.96L203.00 511.91L203.50 511.73L204.00 511.55L204.50 511.37L205.00 511.19L205.50 511.01L206.00 511.00L206.30 510.99L206.50 511.21L207.00 511.75L207.50 512.28L208.00 512.82L208.50 513.27L208.70 513.46L209.00 513.81L209.50 514.40L210.00 514.99L210.50 515.59L211.00 516.13L211.50 516.68L212.00 517.22L212.50 517.77L213.00 518.31L213.30 518.69L213.50 518.90L214.00 519.44L214.50 519.97L215.00 520.50L215.50 521.04L216.00 521.43L216.50 521.83L216.80 522.07L217.00 522.12L217.50 522.26L218.00 522.40L218.50 522.69L219.00 522.98L219.50 523.27L220.00 523.56L220.30 523.73L220.50 523.81L221.00 523.92L221.50 524.03L222.00 524.14L222.50 524.26L223.00 524.37L223.50 524.50L223.80 524.57L224.00 524.58L224.50 523.86L225.00 523.15L225.50 522.43L226.00 521.70L226.40 521.11L226.50 521.11L227.00 521.12L227.50 521.12L228.00 521.12L228.50 521.21L228.80 521.26L229.00 521.47L229.50 521.99L230.00 522.51L230.50 523.04L231.00 523.52L231.20 523.71L231.50 523.90L232.00 524.23L232.50 524.55L233.00 524.88L233.50 525.11L233.60 525.16L234.00 525.06L234.50 524.94L235.00 524.81L235.50 524.69L236.00 524.67L236.50 524.33L237.00 524.00L237.50 523.66L238.00 523.32L238.40 522.95L238.50 522.97L239.00 523.07L239.50 523.18L240.00 523.28L240.50 523.37L240.80 523.54L241.00 523.64L241.50 523.90L242.00 524.16L242.50 524.42L243.00 524.68L243.20 524.74L243.50 524.27L244.00 523.51L244.50 522.74L245.00 521.97L245.50 521.20L245.60 521.06L246.00 521.59L246.50 522.26L247.00 522.93L247.50 523.60L248.00 524.26L248.50 524.50L249.00 524.74L249.50 524.98L250.00 525.21L250.40 525.40L250.50 525.37L251.00 525.15L251.50 524.93L252.00 524.71L252.50 524.48L252.80 524.35L253.00 524.83L253.50 517.09L253.60 515.55L254.00 512.83L254.50 509.63L254.80 507.72L255.00 507.40L255.20 507.08L255.50 506.33L256.00 505.12L256.40 504.15L256.50 503.91L257.00 502.68L257.50 501.45L257.60 501.21L258.00 500.83L258.50 500.22L258.80 499.85L259.00 499.27L259.50 497.83L260.00 496.39L260.50 494.35L261.00 492.48L261.20 491.74L261.50 490.47L262.00 488.36L262.40 488.26L262.50 488.11L263.00 487.37L263.50 486.51L263.60 486.34L264.00 486.04L264.50 485.66L264.70 485.51L264.80 485.45L265.00 485.52L265.50 485.67L266.00 485.87L266.50 485.43L267.00 486.46L267.20 486.87L267.50 487.32L268.00 488.07L268.30 488.52L268.40 488.22L268.50 488.01L269.00 486.95L269.50 485.88L269.60 485.67L270.00 484.86L270.50 483.85L270.80 483.32L270.90 483.27L271.00 483.61L271.50 485.36L272.00 487.10L272.50 488.13L272.70 488.54L273.00 491.05L273.20 492.63L273.50 494.83L274.00 498.49L274.40 500.84L274.50 501.36L274.80 502.91L275.00 505.23L275.50 511.04L275.60 512.23L275.80 513.94L276.00 514.30L276.40 515.03L276.50 514.91L277.00 514.33L277.20 514.10L277.50 513.78L278.00 513.25L278.50 513.84L278.80 514.19L279.00 513.93L279.50 513.90L280.00 513.86L280.50 513.83L281.00 513.85L281.50 513.87L282.00 513.89L282.50 513.91L283.00 513.93L283.50 513.74L284.00 513.56L284.50 513.38L285.00 513.19L285.50 513.01L286.00 513.01L286.50 513.01L287.00 513.02L287.50 513.02L288.00 513.02L288.50 512.98L289.00 512.94L289.50 512.90L290.00 512.86L290.30 512.83L290.50 512.84L291.00 512.89L291.50 512.95L292.00 513.00L292.50 513.05L293.00 513.11L293.50 513.10L294.00 513.09L294.50 513.08L295.00 513.07L295.50 513.06L296.00 513.06L296.50 513.07L297.00 513.08L297.50 513.08L298.00 513.09L298.50 513.00L299.00 512.90L299.20 512.87L299.50 512.79L300.00 512.66L300.50 512.54L301.00 512.53L301.50 512.52L302.00 512.51L302.50 512.50L303.00 512.49L303.50 512.45L304.00 512.40L304.50 512.36L305.00 512.32L305.40 512.29L305.50 511.95L306.00 510.34L306.50 508.33L307.00 506.32L307.10 505.92L307.50 504.53L308.00 502.79L308.20 502.29L308.50 502.23L309.00 502.14L309.30 502.08L309.50 501.49L310.00 500.00L310.40 498.81L310.50 498.56L310.70 497.99L311.00 496.91L311.50 495.11L312.00 493.89L312.50 492.66L312.60 492.42L313.00 490.65L313.30 489.40L313.50 489.12L313.70 488.85L314.00 489.05L314.50 489.38L314.80 489.58L315.00 489.51L315.50 489.31L315.90 489.16L316.00 489.00L316.50 488.47L317.00 487.95L317.50 488.14L318.00 488.33L318.10 488.36L318.50 488.51L319.00 488.69L319.20 488.76L319.50 488.81L320.00 488.89L320.30 488.94L320.40 489.04L320.50 489.12L321.00 489.57L321.40 489.93L321.50 489.87L322.00 489.58L322.50 489.30L323.00 489.54L323.50 489.76L323.60 489.81L323.70 489.75L324.00 490.18L324.50 490.88L324.70 491.16L325.00 492.28L325.50 494.15L325.80 493.64L326.00 492.72L326.50 490.42L326.90 488.57L327.00 488.26L327.50 486.68L328.00 485.10L328.30 484.17L328.50 484.47L329.00 485.23L329.10 485.39L329.50 486.17L330.00 487.14L330.20 487.53L330.50 487.59L331.00 487.80L331.30 487.94L331.50 488.46L332.00 489.77L332.40 490.82L332.50 490.88L333.00 491.19L333.50 490.06L334.00 489.42L334.50 488.78L334.60 488.65L335.00 488.11L335.50 487.42L335.70 487.16L336.00 485.92L336.50 483.84L336.80 482.60L337.00 482.17L337.50 481.11L337.90 483.06L338.00 483.40L338.50 485.13L339.00 486.86L339.40 488.31L339.50 487.95L340.00 486.18L340.10 485.82L340.50 485.25L341.00 484.43L341.20 484.11L341.50 482.69L342.00 480.32L342.20 479.37L342.30 479.02L342.50 478.72L343.00 477.98L343.40 477.40L343.50 477.24L344.00 476.46L344.50 475.68L345.00 474.44L345.50 473.20L345.60 472.96L345.80 472.46L346.00 472.94L346.50 474.15L346.70 474.64L347.00 475.64L347.50 477.32L347.70 477.99L347.80 478.30L348.00 478.85L348.50 480.22L348.90 481.32L349.00 481.63L349.50 483.21L350.00 484.79L350.50 485.38L351.00 485.56L351.10 485.60L351.50 486.73L352.00 488.14L352.20 488.71L352.50 489.06L353.00 489.64L353.20 489.96L353.30 490.13L353.50 490.60L354.00 491.80L354.40 492.75L354.50 493.08L355.00 494.68L355.50 491.17L356.00 487.50L356.50 480.08L357.00 472.66L357.50 491.14L357.80 503.05L358.00 500.63L358.10 499.42L358.50 492.45L358.70 488.97L358.80 487.55L359.00 492.57L359.30 500.11L359.50 505.43L359.70 510.74L359.90 511.55L360.00 511.91L360.50 513.72L361.00 512.39L361.10 512.12L361.50 513.61L361.70 514.10L362.00 513.66L362.50 514.04L362.70 514.20L363.00 514.43L363.40 514.70L363.50 514.81L364.00 515.34L364.10 515.45L364.30 515.47L364.50 515.36L364.80 515.21L365.00 515.25L365.50 515.36L366.00 515.38L366.20 515.39L366.50 515.76L366.90 516.24L367.00 516.21L367.50 516.01L367.60 515.97L368.00 516.20L368.30 516.30L368.50 516.32L369.00 516.36L369.50 515.55L369.70 515.22L370.00 515.41L370.40 515.66L370.50 515.74L371.00 516.27L371.10 516.38L371.50 516.37L371.80 516.36L372.00 515.85L372.50 515.95L373.00 516.05L373.50 515.97L374.00 515.90L374.50 515.82L375.00 515.74L375.50 515.65L376.00 515.65L376.50 515.65L377.00 515.66L377.50 515.66L378.00 515.66L378.50 515.68L379.00 515.71L379.50 515.73L380.00 515.76L380.50 515.78L381.00 515.77L381.50 515.77L382.00 515.76L382.50 515.75L383.00 515.75L383.50 515.78L384.00 515.81L384.50 515.84L385.00 515.87L385.50 515.90L386.00 515.85L386.50 515.81L387.00 515.76L387.50 515.72L388.00 515.67L388.50 515.66L389.00 515.66L389.50 515.65L390.00 515.64L390.50 515.63L391.00 515.66L391.50 515.69L392.00 515.71L392.50 515.74L393.00 515.76L393.50 515.75L394.00 515.75L394.50 515.74L395.00 515.73L395.50 515.73L396.00 515.77L396.50 515.81L397.00 515.86L397.50 515.90L398.00 515.94L398.50 515.89L399.00 515.84L399.50 515.78L400.00 515.73L400.50 515.68L401.00 515.81L401.50 515.95L402.00 516.09L402.50 516.22L403.00 516.36L403.50 516.32L404.00 516.28L404.50 516.24L405.00 516.20L405.50 516.16L406.00 516.09L406.50 516.01L407.00 515.94L407.50 515.87L408.00 515.79L408.50 515.81L409.00 515.83L409.50 515.85L410.00 515.86L410.50 515.88L411.00 515.90L411.50 515.91L412.00 515.93L412.50 515.95L413.00 515.96L413.50 515.97L414.00 515.97L414.50 515.97L415.00 515.98L415.50 515.98L416.00 515.94L416.50 515.91L417.00 515.87L417.50 515.83L418.00 515.79L418.50 515.91L419.00 516.03L419.50 516.15L420.00 516.26L420.50 516.38L421.00 516.40L421.50 516.43L422.00 516.45L422.50 516.47L423.00 516.50L423.50 516.41L424.00 516.33L424.50 516.25L425.00 516.16L425.50 516.08L426.00 516.08L426.50 516.09L427.00 516.09L427.50 516.09L428.00 516.10L428.50 516.03L429.00 515.97L429.50 515.91L430.00 515.84L430.50 515.78L431.00 515.79L431.50 515.79L432.00 515.79L432.50 515.79L433.00 515.80L433.50 515.84L434.00 515.88L434.50 515.92L435.00 515.95L435.50 515.99L436.00 515.98L436.50 515.97L437.00 515.96L437.50 515.95L438.00 515.93L438.50 516.03L439.00 516.12L439.50 516.21L440.00 516.30L440.50 516.39L441.00 516.28L441.50 516.18L442.00 516.07L442.50 515.96L443.00 515.86L443.50 515.84L444.00 515.81L444.50 515.79L445.00 515.77L445.50 515.75L446.00 515.90L446.50 516.05L447.00 516.20L447.50 516.35L448.00 516.50L448.50 516.43L449.00 516.36L449.50 516.29L450.00 516.23L450.50 516.16L451.00 516.10L451.50 516.04L452.00 515.98L452.50 515.92L453.00 515.86L453.50 515.92L454.00 515.99L454.50 516.05L455.00 516.11L455.50 516.18L456.00 516.10L456.50 516.02L457.00 515.93L457.50 515.85L458.00 515.77L458.50 515.85L459.00 515.93L459.50 516.01L460.00 516.09L460.50 516.17L461.00 516.25L461.50 516.32L462.00 516.39L462.50 516.46L463.00 516.54L463.50 516.52L464.00 516.50L464.50 516.48L465.00 516.47L465.50 516.45L466.00 516.42L466.50 516.40L467.00 516.37L467.50 516.34L468.00 516.32L468.50 516.25L469.00 516.18L469.50 516.11L470.00 516.04L470.50 515.97L471.00 515.99L471.50 516.01L472.00 516.02L472.50 516.04L473.00 516.06L473.50 516.03L474.00 516.00L474.50 515.97L475.00 515.93L475.50 515.90L476.00 516.00L476.50 516.10L477.00 516.20L477.50 516.29L478.00 516.39L478.50 516.35L479.00 516.31L479.50 516.28L480.00 516.24L480.50 516.20L481.00 516.24L481.50 516.28L482.00 516.32L482.50 516.36L483.00 516.40L483.50 516.33L484.00 516.26L484.50 516.19L485.00 516.12L485.50 516.05L486.00 516.03L486.50 516.01L487.00 516.00L487.50 515.98L488.00 515.96L488.50 516.06L489.00 516.15L489.50 516.25L490.00 516.34L490.50 516.44L491.00 516.47L491.50 516.49L492.00 516.52L492.50 516.55L493.00 516.58L493.50 516.56L494.00 516.54L494.50 516.52L495.00 516.50L495.50 516.48L496.00 516.47L496.50 516.46L497.00 516.46L497.50 516.45L498.00 516.44L498.50 516.44L499.00 516.45L499.50 516.45L500.00 516.45L500.50 516.46L501.00 516.45L501.50 516.44L502.00 516.43L502.50 516.43L503.00 516.42L503.50 516.34L504.00 516.26L504.50 516.19L505.00 516.11L505.50 516.03L506.00 516.08L506.50 516.13L507.00 516.18L507.50 516.23L508.00 516.29L508.50 516.26L509.00 516.24L509.50 516.22L510.00 516.20L510.50 516.18L511.00 516.13L511.50 516.08L512.00 516.03L512.50 515.99L513.00 515.94L513.50 515.94L514.00 515.95L514.50 515.95L515.00 515.96L515.50 515.96L516.00 516.00L516.50 516.05L517.00 516.09L517.50 516.14L518.00 516.18L518.50 516.18L519.00 516.19L519.50 516.19L520.00 516.19L520.50 516.19L521.00 516.26L521.50 516.34L522.00 516.41L522.50 516.48L523.00 516.56L523.50 516.61L524.00 516.65L524.50 516.70L525.00 516.75L525.50 516.79L526.00 516.71L526.50 516.64L527.00 516.56L527.50 516.48L528.00 516.41L528.50 516.49L529.00 516.57L529.50 516.66L530.00 516.74L530.50 516.82L531.00 516.83L531.50 516.85L532.00 516.86L532.50 516.87L533.00 516.88L533.50 516.88L534.00 516.88L534.50 516.88L535.00 516.88L535.50 516.88L536.00 516.79L536.50 516.70L537.00 516.61L537.50 516.52L538.00 516.43L538.50 516.41L539.00 516.39L539.50 516.37L540.00 516.35L540.50 516.34L541.00 516.34L541.50 516.35L542.00 516.35L542.50 516.36L543.00 516.36L543.50 516.42L544.00 516.48L544.50 516.54L545.00 516.60" stroke="#000000" stroke-width="1.40" fill="none" stroke-linejoin="miter"/>
<path d="M63.00 535.00L63.50 534.94L64.00 534.88L64.50 534.83L65.00 534.77L65.50 534.71L66.00 534.71L66.50 534.70L67.00 534.70L67.50 534.70L68.00 534.70L68.50 534.75L69.00 534.80L69.50 534.85L70.00 534.90L70.50 534.95L71.00 534.89L71.50 534.84L72.00 534.78L72.50 534.78L73.00 534.79L73.50 534.88L74.00 534.98L74.50 535.07L75.00 535.17L75.50 535.26L76.00 535.30L76.50 535.34L77.00 535.38L77.50 535.42L78.00 535.46L78.50 535.60L79.00 535.73L79.50 535.87L80.00 536.01L80.50 536.14L81.00 536.20L81.50 536.26L82.00 536.32L82.50 536.38L83.00 536.44L83.50 536.50L84.00 536.56L84.50 536.43L85.00 536.30L85.50 536.17L86.00 535.90L86.50 535.63L87.00 535.36L87.50 535.09L88.00 534.82L88.50 534.76L89.00 534.70L89.50 534.64L90.00 534.58L90.50 534.42L91.00 534.16L91.50 533.91L92.00 533.65L92.50 533.73L93.00 533.82L93.50 533.83L94.00 533.84L94.50 533.85L95.00 533.86L95.50 533.87L96.00 534.08L96.50 534.29L97.00 534.51L97.50 534.72L98.00 534.93L98.50 535.04L99.00 535.15L99.50 535.25L100.00 535.36L100.50 535.39L101.00 535.28L101.50 535.17L102.00 535.07L102.50 534.96L103.00 534.85L103.50 534.98L104.00 535.11L104.50 535.24L105.00 535.37L105.50 535.50L106.00 535.42L106.50 535.35L107.00 535.27L107.50 535.19L108.00 535.12L108.50 535.15L109.00 535.17L109.50 535.20L110.00 535.23L110.50 535.25L111.00 535.35L111.50 535.44L112.00 535.53L112.50 535.62L113.00 535.72L113.50 535.70L114.00 535.69L114.50 535.68L115.00 535.67L115.50 535.65L116.00 535.56L116.50 535.46L117.00 535.37L117.50 535.27L118.00 535.18L118.50 535.23L119.00 535.29L119.50 535.35L120.00 535.40L120.50 535.44L121.00 535.44L121.50 535.45L122.00 535.46L122.50 535.46L123.00 535.47L123.50 535.43L124.00 535.40L124.50 535.36L125.00 535.32L125.50 535.29L126.00 535.26L126.50 535.23L127.00 535.20L127.50 535.17L128.00 535.14L128.50 535.15L129.00 535.16L129.50 535.17L130.00 535.19L130.50 535.20L131.00 535.25L131.50 535.31L132.00 535.37L132.50 535.43L133.00 535.48L133.50 535.36L134.00 535.24L134.50 535.12L135.00 535.00L135.50 534.88L136.00 534.96L136.50 535.04L137.00 535.12L137.50 535.20L138.00 535.27L138.50 535.25L139.00 535.22L139.50 535.20L140.00 535.17L140.50 535.16L141.00 535.10L141.50 535.04L142.00 534.98L142.50 534.92L143.00 534.86L143.50 534.92L144.00 534.97L144.50 535.03L145.00 535.09L145.50 535.15L146.00 535.20L146.50 535.26L147.00 535.31L147.50 535.36L148.00 535.42L148.50 535.41L149.00 535.40L149.50 535.39L150.00 535.38L150.50 535.37L151.00 535.30L151.50 535.24L152.00 535.17L152.50 535.11L153.00 535.05L153.50 535.20L154.00 535.36L154.50 535.51L155.00 535.67L155.50 535.82L156.00 535.80L156.50 535.77L157.00 535.75L157.50 535.72L158.00 535.70L158.50 535.74L159.00 535.77L159.50 535.81L160.00 535.85L160.50 535.86L161.00 535.71L161.50 535.56L162.00 535.41L162.50 535.26L163.00 535.11L163.50 535.12L164.00 535.14L164.50 535.15L165.00 535.16L165.50 535.17L166.00 535.13L166.50 535.08L167.00 535.03L167.50 534.98L168.00 534.93L168.50 535.04L169.00 535.14L169.50 535.25L170.00 535.35L170.50 535.46L171.00 535.37L171.50 535.27L172.00 535.18L172.50 535.09L173.00 534.99L173.50 534.96L174.00 534.92L174.50 534.89L175.00 534.85L175.50 534.82L176.00 534.85L176.50 534.88L177.00 534.92L177.50 534.95L178.00 534.99L178.50 535.05L179.00 535.12L179.50 535.19L180.00 535.25L180.50 535.33L181.00 535.31L181.50 535.30L182.00 535.28L182.50 535.27L183.00 535.26L183.50 535.17L184.00 535.08L184.50 534.99L185.00 534.90L185.50 534.81L186.00 534.79L186.50 534.77L187.00 534.75L187.50 534.74L188.00 534.72L188.50 534.84L189.00 534.97L189.50 535.09L190.00 535.21L190.50 535.41L191.00 535.42L191.50 535.44L192.00 535.45L192.50 535.47L193.00 535.49L193.50 535.58L194.00 535.67L194.50 535.76L195.00 535.85L195.50 535.95L196.00 535.92L196.50 535.89L197.00 535.87L197.50 535.91L198.00 535.95L198.50 536.08L199.00 536.21L199.50 536.35L200.00 536.48L200.50 536.61L201.00 536.85L201.50 537.09L201.70 537.19L202.00 537.25L202.50 537.35L203.00 537.45L203.50 537.41L204.00 537.37L204.50 537.32L205.00 537.28L205.50 536.93L206.00 536.56L206.50 536.19L207.00 535.82L207.50 535.45L208.00 535.08L208.50 534.91L209.00 534.74L209.50 534.56L209.80 534.46L210.00 534.45L210.50 534.43L211.00 534.22L211.50 534.02L212.00 533.81L212.50 533.61L213.00 533.40L213.30 533.32L213.50 533.19L214.00 532.84L214.50 532.49L215.00 532.15L215.50 531.80L216.00 531.32L216.50 530.83L217.00 530.34L217.50 529.85L218.00 529.37L218.50 529.32L219.00 529.27L219.50 529.22L220.00 529.18L220.50 529.13L221.00 528.83L221.50 528.53L222.00 528.30L222.50 528.06L223.00 527.83L223.50 527.85L223.80 527.86L224.00 527.91L224.50 527.91L225.00 527.91L225.50 527.90L226.00 527.71L226.50 527.55L227.00 527.40L227.50 527.24L228.00 527.09L228.50 527.20L229.00 527.31L229.50 527.43L230.00 527.54L230.50 527.82L231.00 528.15L231.50 528.48L232.00 528.81L232.50 528.54L233.00 528.28L233.50 528.04L234.00 527.80L234.50 528.20L235.00 528.60L235.50 529.00L236.00 529.23L236.50 529.28L237.00 529.34L237.50 529.39L238.00 529.44L238.50 529.15L239.00 528.85L239.50 528.56L240.00 528.27L240.50 528.19L241.00 528.21L241.50 528.22L242.00 528.24L242.50 528.37L243.00 528.51L243.50 528.54L244.00 528.57L244.50 528.66L245.00 528.76L245.50 528.85L246.00 528.97L246.50 529.02L247.00 529.06L247.50 529.11L248.00 529.16L248.50 529.09L249.00 529.03L249.50 528.96L250.00 528.90L250.50 528.94L251.00 528.95L251.50 528.97L252.00 528.98L252.50 528.81L253.00 528.64L253.50 531.44L254.00 534.24L254.50 536.54L254.80 537.92L255.00 538.69L255.50 541.21L256.00 543.72L256.50 546.28L257.00 547.45L257.50 549.08L258.00 550.71L258.50 551.21L259.00 551.33L259.50 552.29L260.00 553.25L260.50 553.23L261.00 553.29L261.20 553.60L261.50 554.29L262.00 555.44L262.50 556.78L263.00 558.12L263.50 559.55L263.80 560.41L264.00 560.67L264.50 560.87L265.00 561.07L265.50 561.22L265.60 561.28L266.00 560.31L266.50 558.66L267.00 557.01L267.40 556.27L267.50 556.23L268.00 556.00L268.50 555.36L269.00 554.72L269.10 554.60L269.50 554.30L270.00 553.91L270.50 553.11L271.00 552.39L271.50 553.01L271.80 553.39L272.00 553.09L272.50 550.59L273.00 548.09L273.50 546.71L274.00 545.33L274.40 545.02L274.50 544.89L274.70 544.63L275.00 543.34L275.40 541.63L275.50 540.70L276.00 536.14L276.10 535.22L276.20 535.09L276.50 535.75L276.80 536.41L277.00 536.75L277.50 537.62L278.00 537.88L278.20 537.96L278.50 536.93L278.90 535.55L279.00 535.71L279.50 535.47L279.70 535.37L280.00 535.37L280.50 535.36L281.00 535.50L281.50 535.64L282.00 535.79L282.50 535.93L283.00 536.07L283.50 536.07L284.00 536.07L284.50 536.07L285.00 536.07L285.50 536.07L286.00 536.04L286.50 536.01L287.00 535.98L287.50 535.95L288.00 535.92L288.50 536.00L289.00 536.07L289.50 536.14L290.00 536.22L290.30 536.26L290.50 536.25L291.00 536.25L291.50 536.25L292.00 536.25L292.50 536.25L293.00 536.25L293.50 536.05L294.00 535.84L294.50 535.64L295.00 535.43L295.50 535.23L296.00 535.27L296.50 535.31L297.00 535.35L297.50 535.39L298.00 535.43L298.50 535.30L299.00 535.16L299.20 535.11L299.50 535.04L300.00 534.93L300.50 534.82L301.00 534.79L301.50 534.75L302.00 534.71L302.50 534.67L303.00 534.64L303.50 534.64L304.00 534.65L304.50 534.66L305.00 535.08L305.50 535.51L306.00 535.81L306.50 535.77L307.00 535.72L307.50 535.93L308.00 536.14L308.50 538.54L309.00 540.93L309.50 541.12L310.00 541.31L310.50 543.15L311.00 545.01L311.50 545.65L312.00 545.26L312.50 546.11L313.00 546.95L313.50 547.88L314.00 548.82L314.50 547.88L315.00 546.94L315.50 547.70L316.00 548.31L316.50 547.43L317.00 546.55L317.50 546.70L317.70 546.76L318.00 547.92L318.50 549.19L319.00 550.47L319.50 551.31L320.00 549.18L320.50 548.76L321.00 548.24L321.50 546.10L321.80 544.82L322.00 545.15L322.50 545.92L323.00 546.68L323.50 548.11L323.70 548.68L324.00 548.55L324.50 549.09L325.00 549.63L325.50 549.38L326.00 549.10L326.50 548.66L327.00 548.74L327.50 548.79L328.00 548.85L328.50 549.47L329.00 550.10L329.20 550.22L329.50 549.82L330.00 549.17L330.50 549.34L331.00 549.47L331.50 547.56L332.00 545.65L332.50 546.12L333.00 546.60L333.50 547.59L334.00 548.59L334.50 548.37L335.00 548.16L335.50 550.23L335.70 551.05L336.00 551.58L336.50 550.93L337.00 550.28L337.50 550.23L338.00 550.18L338.50 549.05L339.00 546.43L339.50 544.86L340.00 543.29L340.30 542.29L340.50 542.48L341.00 542.79L341.50 543.97L342.00 545.15L342.50 544.81L343.00 544.47L343.50 543.11L344.00 541.76L344.50 540.84L345.00 539.93L345.50 538.69L345.80 537.94L346.00 536.78L346.50 533.77L347.00 530.76L347.50 528.17L347.70 527.13L348.00 528.86L348.50 532.88L349.00 536.91L349.50 539.01L350.00 539.28L350.50 541.35L351.00 543.31L351.40 543.26L351.50 542.65L352.00 539.60L352.50 537.60L353.00 535.60L353.20 534.93L353.50 536.35L354.00 538.71L354.50 540.69L355.00 542.67L355.50 540.34L356.00 537.97L356.40 534.22L356.50 534.03L356.80 533.43L357.00 534.24L357.20 535.76L357.50 535.10L357.60 534.88L358.00 534.00L358.40 532.51L358.50 532.83L358.80 533.80L359.00 533.75L359.20 533.71L359.50 531.75L359.60 531.10L360.00 531.87L360.40 527.60L360.50 528.56L360.80 531.45L361.00 529.93L361.50 529.53L361.60 529.45L362.00 529.69L362.20 529.81L362.50 529.50L362.80 529.40L363.00 529.13L363.40 528.61L363.50 528.53L364.00 528.11L364.50 529.93L364.60 530.30L365.00 529.07L365.20 528.45L365.50 528.91L365.80 529.31L366.00 529.20L366.40 528.99L366.50 528.97L367.00 528.86L367.50 529.74L367.60 529.91L368.00 530.28L368.20 530.49L368.50 529.67L368.80 528.84L369.00 529.18L369.40 529.86L369.50 529.73L370.00 529.08L370.50 529.65L370.60 529.75L371.00 529.47L371.20 529.34L371.50 529.05L371.80 528.77L372.00 528.76L372.40 528.74L372.50 528.75L373.00 528.83L373.50 530.35L373.60 530.65L374.00 530.10L374.20 529.82L374.50 529.56L374.80 529.30L375.00 530.02L375.50 530.15L376.00 530.16L376.50 530.17L377.00 530.19L377.50 530.20L378.00 530.21L378.50 530.16L379.00 530.10L379.50 530.04L380.00 529.99L380.50 529.93L381.00 529.90L381.50 529.86L382.00 529.82L382.50 529.79L383.00 529.75L383.50 529.88L384.00 530.00L384.50 530.13L385.00 530.26L385.50 530.37L386.00 530.27L386.50 530.16L387.00 530.06L387.50 529.95L388.00 529.85L388.50 529.86L389.00 529.86L389.50 529.87L390.00 529.88L390.50 529.89L391.00 529.83L391.50 529.77L392.00 529.71L392.50 529.66L393.00 529.60L393.50 529.66L394.00 529.72L394.50 529.78L395.00 529.84L395.50 529.91L396.00 529.92L396.50 529.94L397.00 529.95L397.50 529.96L398.00 529.98L398.50 529.98L399.00 529.99L399.50 529.99L400.00 530.00L400.50 529.90L401.00 529.75L401.50 529.61L402.00 529.46L402.50 529.31L403.00 529.16L403.50 529.11L404.00 529.06L404.50 529.01L405.00 528.96L405.50 528.90L406.00 528.72L406.50 528.54L407.00 528.36L407.50 528.18L408.00 528.00L408.50 527.95L409.00 527.89L409.50 527.83L410.00 527.77L410.50 527.83L411.00 527.82L411.50 527.82L412.00 527.81L412.50 527.80L413.00 527.79L413.50 527.86L414.00 527.93L414.50 528.00L415.00 528.07L415.50 528.79L416.00 529.41L416.50 530.03L417.00 530.65L417.50 530.47L418.00 530.30L418.50 530.17L419.00 530.05L419.50 529.93L420.00 529.81L420.50 529.69L421.00 529.61L421.50 529.54L422.00 529.47L422.50 529.39L423.00 529.32L423.50 529.19L424.00 529.06L424.50 528.93L425.00 528.80L425.50 528.64L426.00 528.54L426.50 528.45L427.00 528.36L427.50 528.26L428.00 528.17L428.50 528.01L429.00 527.85L429.50 527.69L430.00 527.53L430.50 527.52L431.00 527.55L431.50 527.59L432.00 527.62L432.50 527.65L433.00 527.68L433.50 527.66L434.00 527.65L434.50 527.63L435.00 527.61L435.50 527.59L436.00 527.60L436.50 527.61L437.00 527.61L437.50 527.62L438.00 527.62L438.50 527.65L439.00 527.67L439.50 527.69L440.00 527.72L440.50 527.74L441.00 527.66L441.50 527.58L442.00 527.50L442.50 527.41L443.00 527.33L443.50 527.32L444.00 527.31L444.50 527.29L445.00 527.28L445.50 527.27L446.00 527.37L446.50 527.47L447.00 527.57L447.50 527.68L448.00 527.78L448.50 527.64L449.00 527.50L449.50 527.37L450.00 527.23L450.50 527.09L451.00 527.18L451.50 527.27L452.00 527.36L452.50 527.45L453.00 527.54L453.50 527.52L454.00 527.51L454.50 527.49L455.00 527.48L455.50 527.46L456.00 527.36L456.50 527.26L457.00 527.16L457.50 527.06L458.00 526.96L458.50 527.09L459.00 527.21L459.50 527.34L460.00 527.46L460.50 527.58L461.00 527.59L461.50 527.59L462.00 527.60L462.50 527.61L463.00 527.61L463.50 527.57L464.00 527.52L464.50 527.48L465.00 527.43L465.50 527.39L466.00 527.40L466.50 527.41L467.00 527.43L467.50 527.44L468.00 527.46L468.50 527.47L469.00 527.47L469.50 527.48L470.00 527.49L470.50 527.50L471.00 527.39L471.50 527.28L472.00 527.17L472.50 527.06L473.00 526.95L473.50 527.01L474.00 527.07L474.50 527.13L475.00 527.18L475.50 527.24L476.00 527.24L476.50 527.23L477.00 527.22L477.50 527.22L478.00 527.21L478.50 527.26L479.00 527.31L479.50 527.36L480.00 527.41L480.50 527.46L481.00 527.45L481.50 527.44L482.00 527.44L482.50 527.43L483.00 527.42L483.50 527.42L484.00 527.42L484.50 527.42L485.00 527.42L485.50 527.42L486.00 527.38L486.50 527.34L487.00 527.30L487.50 527.26L488.00 527.21L488.50 527.26L489.00 527.31L489.50 527.35L490.00 527.40L490.50 527.45L491.00 527.41L491.50 527.37L492.00 527.34L492.50 527.30L493.00 527.26L493.50 527.26L494.00 527.26L494.50 527.26L495.00 527.26L495.50 527.26L496.00 527.18L496.50 527.10L497.00 527.02L497.50 526.95L498.00 526.87L498.50 526.84L499.00 526.80L499.50 526.77L500.00 526.73L500.50 526.70L501.00 526.71L501.50 526.72L502.00 526.74L502.50 526.75L503.00 526.76L503.50 526.80L504.00 526.83L504.50 526.86L505.00 526.90L505.50 526.93L506.00 526.89L506.50 526.84L507.00 526.80L507.50 526.75L508.00 526.71L508.50 526.82L509.00 526.94L509.50 527.05L510.00 527.16L510.50 527.28L511.00 527.23L511.50 527.18L512.00 527.14L512.50 527.09L513.00 527.04L513.50 527.05L514.00 527.06L514.50 527.07L515.00 527.07L515.50 527.08L516.00 527.08L516.50 527.08L517.00 527.07L517.50 527.07L518.00 527.07L518.50 527.07L519.00 527.08L519.50 527.08L520.00 527.09L520.50 527.09L521.00 527.06L521.50 527.03L522.00 526.99L522.50 526.96L523.00 526.93L523.50 526.84L524.00 526.76L524.50 526.68L525.00 526.60L525.50 526.52L526.00 526.65L526.50 526.77L527.00 526.89L527.50 527.02L528.00 527.14L528.50 527.13L529.00 527.12L529.50 527.11L530.00 527.10L530.50 527.09L531.00 527.04L531.50 527.00L532.00 526.96L532.50 526.92L533.00 526.88L533.50 526.88L534.00 526.88L534.50 526.88L535.00 526.88L535.50 526.89L536.00 526.90L536.50 526.92L537.00 526.94L537.50 526.95L538.00 526.97L538.50 526.87L539.00 526.77L539.50 526.68L540.00 526.58L540.50 526.48L541.00 526.58L541.50 526.69L542.00 526.79L542.50 526.90L543.00 527.00L543.50 526.95L544.00 526.90L544.50 526.85L545.00 526.80" stroke="#c81010" stroke-width="1.15" fill="none" stroke-linejoin="miter"/>
<path d="M63.00 531.00L63.50 531.07L64.00 531.13L64.50 531.20L65.00 531.26L65.50 531.33L66.00 531.34L66.50 531.35L67.00 531.37L67.50 531.38L68.00 531.40L68.50 531.31L69.00 531.22L69.50 531.13L70.00 531.05L70.50 530.96L71.00 530.91L71.50 530.86L72.00 530.81L72.50 530.68L73.00 530.55L73.50 530.47L74.00 530.40L74.50 530.32L75.00 530.25L75.50 530.17L76.00 530.07L76.50 529.97L77.00 529.87L77.50 529.77L78.00 529.67L78.50 529.71L79.00 529.75L79.50 529.79L80.00 529.83L80.50 529.50L81.00 529.08L81.50 528.67L82.00 528.25L82.50 527.34L83.00 526.42L83.50 525.57L84.00 524.72L84.50 524.19L85.00 523.67L85.50 523.14L86.00 522.59L86.50 522.35L87.00 522.10L87.50 521.85L88.00 521.61L88.50 521.62L89.00 521.63L89.50 521.64L90.00 521.66L90.50 521.67L91.00 521.68L91.50 521.69L92.00 521.71L92.50 521.68L93.00 521.64L93.50 521.54L94.00 521.43L94.50 521.33L95.00 521.22L95.50 521.37L96.00 521.49L96.50 521.60L97.00 521.72L97.50 521.84L98.00 521.95L98.50 522.12L99.00 522.29L99.50 522.46L99.70 522.53L100.00 522.64L100.50 522.83L101.00 523.03L101.50 523.23L102.00 523.44L102.50 523.64L103.00 523.85L103.50 524.01L104.00 524.17L104.50 524.33L105.00 524.49L105.50 524.66L106.00 524.84L106.50 525.01L106.70 525.09L107.00 525.02L107.50 524.91L108.00 524.80L108.50 524.66L109.00 524.51L109.50 524.37L110.00 524.22L110.50 524.07L111.00 524.01L111.50 523.94L112.00 523.87L112.50 523.80L113.00 523.73L113.50 523.74L114.00 523.75L114.50 523.76L115.00 523.77L115.50 523.78L116.00 523.54L116.50 523.39L117.00 523.24L117.50 523.09L118.00 522.94L118.50 522.99L119.00 523.04L119.50 523.08L120.00 523.13L120.50 523.17L121.00 523.18L121.50 523.19L122.00 523.19L122.50 523.20L123.00 523.20L123.50 523.23L124.00 523.25L124.50 523.27L125.00 523.30L125.50 523.32L126.00 523.20L126.50 523.08L127.00 522.97L127.50 522.85L128.00 522.73L128.50 522.72L129.00 522.72L129.50 522.71L130.00 522.71L130.50 522.73L131.00 522.75L131.50 522.76L132.00 522.77L132.50 522.79L133.00 522.80L133.50 522.84L134.00 522.88L134.50 522.93L135.00 522.97L135.50 523.01L136.00 523.03L136.50 523.06L137.00 523.08L137.50 523.11L138.00 523.13L138.50 523.23L139.00 523.33L139.50 523.43L140.00 523.52L140.50 523.62L141.00 523.62L141.50 523.62L141.70 523.62L142.00 523.58L142.50 523.51L143.00 523.43L143.50 523.38L144.00 523.33L144.50 523.28L145.00 523.22L145.50 523.17L146.00 522.98L146.50 522.79L147.00 522.60L147.50 522.40L148.00 522.21L148.50 522.16L149.00 522.10L149.50 522.05L150.00 521.99L150.50 521.94L151.00 521.99L151.50 522.04L152.00 522.10L152.50 522.15L153.00 522.20L153.30 522.19L153.50 522.20L154.00 522.25L154.50 522.30L155.00 522.35L155.50 522.40L156.00 522.35L156.50 522.30L157.00 522.25L157.50 522.20L158.00 522.15L158.50 522.19L159.00 522.22L159.50 522.26L160.00 522.30L160.50 522.33L161.00 522.26L161.50 522.18L162.00 522.11L162.50 522.03L163.00 521.96L163.50 522.04L164.00 522.12L164.50 522.20L165.00 522.28L165.50 522.36L166.00 522.46L166.50 522.57L167.00 522.67L167.50 522.78L168.00 522.88L168.50 522.88L169.00 522.88L169.50 522.89L169.70 522.89L170.00 522.74L170.50 522.50L171.00 522.27L171.50 522.05L172.00 521.82L172.50 521.60L173.00 521.38L173.50 521.17L174.00 520.96L174.30 520.83L174.50 520.82L175.00 520.79L175.50 520.76L176.00 520.59L176.50 520.43L177.00 520.26L177.50 520.09L178.00 519.93L178.50 519.86L179.00 519.78L179.50 519.71L180.00 519.64L180.50 519.57L181.00 519.52L181.30 519.50L181.50 519.51L182.00 519.53L182.50 519.56L183.00 519.58L183.50 519.66L184.00 519.73L184.50 519.81L185.00 519.89L185.50 519.96L186.00 520.01L186.50 520.05L187.00 520.09L187.50 520.13L188.00 520.18L188.50 520.24L189.00 520.29L189.50 520.35L190.00 520.41L190.50 520.47L191.00 520.45L191.50 520.43L192.00 520.40L192.50 520.38L193.00 520.36L193.50 520.37L194.00 520.37L194.50 520.37L195.00 520.37L195.50 520.38L196.00 520.41L196.50 520.44L197.00 520.47L197.50 520.16L198.00 519.85L198.50 519.48L199.00 519.10L199.50 518.72L200.00 518.34L200.50 517.97L201.00 517.74L201.50 517.51L202.00 517.28L202.50 517.05L203.00 516.83L203.50 516.50L204.00 516.18L204.50 515.84L205.00 515.50L205.50 515.16L206.00 515.02L206.50 514.88L207.00 514.75L207.50 514.61L208.00 515.49L208.50 516.16L209.00 516.83L209.50 517.51L209.80 517.91L210.00 518.14L210.50 518.73L211.00 519.51L211.50 520.29L212.00 521.07L212.50 521.85L213.00 522.63L213.30 523.01L213.50 523.09L214.00 523.29L214.50 523.49L215.00 523.69L215.50 523.89L216.00 524.08L216.50 524.27L217.00 524.46L217.50 524.65L218.00 524.84L218.50 524.99L219.00 525.13L219.50 525.28L220.00 525.42L220.50 525.56L221.00 525.76L221.50 525.95L222.00 526.14L222.50 526.33L223.00 526.53L223.50 526.76L223.80 526.90L224.00 526.93L224.50 527.79L225.00 528.66L225.50 529.52L226.00 530.34L226.40 530.99L226.50 530.97L227.00 530.91L227.50 530.85L228.00 530.79L228.50 530.62L228.80 530.53L229.00 530.53L229.50 530.55L230.00 530.57L230.50 530.59L231.00 530.70L231.20 530.74L231.50 530.71L232.00 530.65L232.50 530.59L233.00 530.53L233.50 530.54L233.60 530.55L234.00 530.45L234.50 530.32L235.00 530.20L235.50 530.07L236.00 529.88L236.50 529.55L237.00 529.22L237.50 528.89L238.00 528.56L238.40 528.26L238.50 528.25L239.00 528.22L239.50 528.19L240.00 528.15L240.50 528.12L240.80 528.10L241.00 528.12L241.50 528.15L242.00 528.19L242.50 528.22L243.00 528.26L243.20 528.31L243.50 528.66L244.00 529.26L244.50 529.85L245.00 530.45L245.50 531.04L245.60 531.13L246.00 530.36L246.50 529.39L247.00 528.43L247.50 527.46L248.00 526.50L248.50 526.70L249.00 526.90L249.50 527.11L250.00 527.31L250.40 527.47L250.50 527.62L251.00 528.35L251.50 529.08L252.00 529.81L252.50 530.54L252.80 530.97L253.00 527.47L253.50 533.21L253.60 534.36L254.00 535.99L254.50 537.65L254.80 538.65L255.00 536.58L255.50 531.51L256.00 526.31L256.50 525.71L256.80 525.36L257.00 526.56L257.50 530.41L258.00 534.26L258.50 537.07L259.00 539.24L259.50 542.73L260.00 546.23L260.30 547.65L260.50 547.39L261.00 546.65L261.50 546.21L262.00 545.77L262.50 545.60L263.00 545.42L263.50 546.08L263.80 546.48L264.00 546.07L264.50 545.32L265.00 544.58L265.50 544.42L265.60 544.40L266.00 545.86L266.50 547.40L267.00 548.95L267.40 549.61L267.50 549.74L268.00 550.37L268.50 551.20L269.00 552.02L269.10 552.31L269.50 553.15L270.00 554.20L270.50 555.29L271.00 556.22L271.50 556.93L271.80 557.35L272.00 556.58L272.50 554.68L273.00 552.77L273.50 550.37L273.60 549.89L274.00 547.47L274.50 547.59L275.00 543.48L275.30 539.28L275.50 536.34L276.00 539.10L276.20 536.16L276.50 533.60L277.00 535.91L277.50 534.48L278.00 537.52L278.50 533.45L278.90 535.57L279.00 536.07L279.50 536.17L280.00 536.27L280.50 536.37L281.00 536.42L281.50 536.47L282.00 536.52L282.50 536.57L283.00 536.62L283.50 536.60L284.00 536.58L284.50 536.56L285.00 536.54L285.50 536.53L286.00 536.52L286.50 536.52L287.00 536.51L287.50 536.51L288.00 536.50L288.50 536.59L289.00 536.68L289.50 536.77L290.00 536.86L290.30 536.91L290.50 536.94L291.00 537.00L291.50 537.06L292.00 537.11L292.50 537.17L293.00 537.23L293.50 537.14L294.00 537.04L294.50 536.95L295.00 536.85L295.50 536.76L296.00 536.74L296.50 536.73L297.00 536.71L297.50 536.70L298.00 536.69L298.50 536.75L299.00 536.82L299.20 536.84L299.50 536.95L300.00 537.13L300.50 537.30L301.00 537.45L301.50 537.59L302.00 537.73L302.50 537.87L303.00 538.01L303.50 538.18L304.00 538.35L304.50 538.53L305.00 538.70L305.50 538.87L306.00 538.92L306.20 538.76L306.50 539.03L307.00 539.47L307.50 540.37L308.00 541.28L308.50 542.19L308.90 542.92L309.00 543.11L309.50 545.54L310.00 547.97L310.50 548.53L311.00 548.99L311.50 549.55L312.00 549.58L312.50 550.20L313.00 550.82L313.50 552.35L314.00 553.89L314.50 553.48L315.00 553.07L315.50 553.20L316.00 553.32L316.50 554.98L317.00 556.64L317.50 556.98L317.70 557.11L318.00 556.52L318.50 556.58L319.00 556.64L319.50 554.50L320.00 552.36L320.40 552.46L320.50 553.05L321.00 555.79L321.50 558.49L321.80 560.10L322.00 559.64L322.50 557.88L323.00 556.13L323.50 554.66L323.70 554.08L324.00 554.70L324.50 554.03L325.00 553.36L325.50 554.71L326.00 555.90L326.50 556.31L327.00 555.57L327.50 555.27L328.00 554.97L328.50 556.04L329.00 557.12L329.20 556.70L329.50 555.99L330.00 554.80L330.50 554.94L331.00 555.16L331.50 553.75L332.00 552.35L332.50 552.84L333.00 553.33L333.50 553.39L334.00 553.45L334.50 553.93L335.00 554.40L335.50 556.15L336.00 558.07L336.50 559.37L336.60 559.63L337.00 560.36L337.50 559.45L338.00 558.54L338.50 559.85L339.00 561.16L339.40 561.54L339.50 561.76L340.00 562.89L340.50 563.26L341.00 563.65L341.50 565.03L342.00 566.41L342.20 566.69L342.50 566.95L343.00 567.38L343.50 568.39L344.00 569.40L344.50 570.38L345.00 571.37L345.50 572.88L345.80 573.81L346.00 573.88L346.50 573.53L347.00 573.18L347.50 571.93L347.70 571.43L348.00 569.42L348.50 566.53L349.00 563.64L349.50 561.66L350.00 560.35L350.50 559.10L351.00 557.86L351.40 555.65L351.50 555.88L352.00 557.07L352.50 559.37L353.00 561.67L353.20 562.35L353.50 560.94L354.00 558.59L354.50 556.97L354.85 564.10L355.00 560.65L355.20 558.48L355.50 549.53L355.55 548.05L355.90 552.37L356.00 555.65L356.25 563.84L356.50 569.26L356.60 571.43L356.95 577.17L357.00 575.44L357.30 551.92L357.50 546.18L357.65 541.86L357.80 543.06L358.00 550.81L358.35 541.43L358.50 539.32L358.70 536.50L359.00 541.38L359.50 538.93L359.60 538.43L359.70 538.36L360.00 539.02L360.20 539.47L360.50 538.20L360.80 537.02L361.00 537.13L361.40 537.35L361.50 537.17L362.00 536.29L362.50 536.08L362.60 536.15L363.00 537.21L363.20 537.63L363.50 537.80L363.80 537.97L364.00 537.32L364.40 536.01L364.50 535.92L365.00 535.45L365.50 536.72L365.60 537.00L366.00 536.01L366.20 535.51L366.50 535.25L366.80 535.00L367.00 535.92L367.40 537.77L367.50 537.54L368.00 536.41L368.50 537.43L368.60 537.64L369.00 536.83L369.20 536.43L369.50 537.16L369.80 537.90L370.00 537.49L370.40 536.67L370.50 536.52L371.00 535.86L371.50 535.57L371.60 535.52L372.00 537.04L372.50 537.12L373.00 537.20L373.50 537.31L374.00 537.42L374.50 537.53L375.00 537.64L375.50 537.72L376.00 537.71L376.50 537.71L377.00 537.71L377.50 537.70L378.00 537.70L378.50 537.67L379.00 537.65L379.50 537.62L380.00 537.60L380.50 537.57L381.00 537.61L381.50 537.66L382.00 537.70L382.50 537.74L383.00 537.78L383.50 537.77L384.00 537.76L384.50 537.74L385.00 537.73L385.50 537.72L386.00 537.62L386.50 537.53L387.00 537.43L387.50 537.33L388.00 537.23L388.50 537.21L389.00 537.18L389.50 537.16L390.00 537.14L390.50 537.11L391.00 537.23L391.50 537.35L392.00 537.47L392.50 537.59L393.00 537.71L393.50 537.67L394.00 537.64L394.50 537.61L395.00 537.58L395.50 537.55L396.00 537.43L396.50 537.32L397.00 537.20L397.50 537.09L398.00 536.97L398.50 537.07L399.00 537.17L399.50 537.27L400.00 537.37L400.50 537.47L401.00 537.42L401.50 537.38L402.00 537.33L402.50 537.28L403.00 537.24L403.50 537.24L404.00 537.23L404.50 537.23L405.00 537.23L405.50 537.23L406.00 537.22L406.50 537.21L407.00 537.20L407.50 537.20L408.00 537.19L408.50 537.16L409.00 537.13L409.50 537.11L410.00 537.08L410.50 537.05L411.00 537.02L411.50 537.00L412.00 536.97L412.50 536.94L413.00 536.91L413.50 536.96L414.00 537.00L414.50 537.04L415.00 537.09L415.50 537.13L416.00 537.14L416.50 537.15L417.00 537.16L417.50 537.17L418.00 537.18L418.50 537.28L419.00 537.37L419.50 537.47L420.00 537.56L420.50 537.66L421.00 537.52L421.50 537.39L422.00 537.25L422.50 537.12L423.00 536.99L423.50 537.12L424.00 537.25L424.50 537.39L425.00 537.52L425.50 537.65L426.00 537.53L426.50 537.41L427.00 537.29L427.50 537.16L428.00 537.04L428.50 537.06L429.00 537.09L429.50 537.11L430.00 537.13L430.50 537.15L431.00 537.23L431.50 537.30L432.00 537.37L432.50 537.45L433.00 537.52L433.50 537.52L434.00 537.52L434.50 537.52L435.00 537.52L435.50 537.52L436.00 537.45L436.50 537.39L437.00 537.32L437.50 537.26L438.00 537.20L438.50 537.14L439.00 537.07L439.50 537.01L440.00 536.95L440.50 536.89L441.00 536.95L441.50 537.02L442.00 537.09L442.50 537.15L443.00 537.22L443.50 537.20L444.00 537.18L444.50 537.17L445.00 537.15L445.50 537.13L446.00 537.22L446.50 537.30L447.00 537.39L447.50 537.48L448.00 537.56L448.50 537.45L449.00 537.33L449.50 537.21L450.00 537.09L450.50 536.98L451.00 537.00L451.50 537.03L452.00 537.06L452.50 537.08L453.00 537.11L453.50 537.19L454.00 537.28L454.50 537.36L455.00 537.44L455.50 537.53L456.00 537.39L456.50 537.25L457.00 537.11L457.50 536.97L458.00 536.83L458.50 536.89L459.00 536.95L459.50 537.01L460.00 537.07L460.50 537.13L461.00 537.19L461.50 537.25L462.00 537.32L462.50 537.38L463.00 537.44L463.50 537.43L464.00 537.43L464.50 537.42L465.00 537.41L465.50 537.40L466.00 537.28L466.50 537.17L467.00 537.05L467.50 536.93L468.00 536.81L468.50 536.81L469.00 536.81L469.50 536.81L470.00 536.81L470.50 536.80L471.00 536.81L471.50 536.81L472.00 536.81L472.50 536.82L473.00 536.82L473.50 536.96L474.00 537.09L474.50 537.23L475.00 537.36L475.50 537.50L476.00 537.39L476.50 537.29L477.00 537.18L477.50 537.07L478.00 536.96L478.50 537.04L479.00 537.12L479.50 537.20L480.00 537.27L480.50 537.35L481.00 537.37L481.50 537.40L482.00 537.42L482.50 537.44L483.00 537.46L483.50 537.37L484.00 537.28L484.50 537.19L485.00 537.10L485.50 537.01L486.00 537.00L486.50 536.99L487.00 536.98L487.50 536.96L488.00 536.95L488.50 537.06L489.00 537.17L489.50 537.28L490.00 537.39L490.50 537.49L491.00 537.44L491.50 537.38L492.00 537.33L492.50 537.27L493.00 537.22L493.50 537.16L494.00 537.10L494.50 537.04L495.00 536.98L495.50 536.93L496.00 537.00L496.50 537.07L497.00 537.14L497.50 537.21L498.00 537.28L498.50 537.22L499.00 537.15L499.50 537.09L500.00 537.02L500.50 536.96L501.00 536.95L501.50 536.94L502.00 536.93L502.50 536.93L503.00 536.92L503.50 536.87L504.00 536.83L504.50 536.79L505.00 536.74L505.50 536.70L506.00 536.82L506.50 536.93L507.00 537.05L507.50 537.17L508.00 537.29L508.50 537.32L509.00 537.34L509.50 537.37L510.00 537.39L510.50 537.41L511.00 537.37L511.50 537.32L512.00 537.28L512.50 537.23L513.00 537.18L513.50 537.23L514.00 537.28L514.50 537.33L515.00 537.38L515.50 537.42L516.00 537.28L516.50 537.13L517.00 536.98L517.50 536.83L518.00 536.68L518.50 536.72L519.00 536.75L519.50 536.78L520.00 536.81L520.50 536.84L521.00 536.88L521.50 536.92L522.00 536.96L522.50 536.99L523.00 537.03L523.50 537.11L524.00 537.18L524.50 537.26L525.00 537.34L525.50 537.41L526.00 537.41L526.50 537.41L527.00 537.41L527.50 537.40L528.00 537.40L528.50 537.31L529.00 537.22L529.50 537.13L530.00 537.04L530.50 536.94L531.00 536.92L531.50 536.90L532.00 536.87L532.50 536.85L533.00 536.83L533.50 536.86L534.00 536.88L534.50 536.91L535.00 536.94L535.50 536.97L536.00 536.98L536.50 536.98L537.00 536.99L537.50 537.00L538.00 537.01L538.50 537.08L539.00 537.15L539.50 537.22L540.00 537.28L540.50 537.35L541.00 537.23L541.50 537.11L542.00 536.99L542.50 536.87L543.00 536.75L543.50 536.81L544.00 536.88L544.50 536.94L545.00 537.00" stroke="#1ed41e" stroke-width="1.15" fill="none" stroke-linejoin="miter"/>
<path d="M63.00 523.00L63.50 523.01L64.00 523.02L64.50 523.02L65.00 523.03L65.50 523.04L66.00 523.06L66.50 523.07L67.00 523.08L67.50 523.10L68.00 523.11L68.50 523.41L69.00 523.70L69.50 523.99L70.00 524.28L70.50 524.39L71.00 524.32L71.50 524.25L72.00 524.18L72.50 524.12L73.00 524.05L73.50 524.19L74.00 524.34L74.50 524.54L75.00 524.75L75.50 524.95L76.00 525.02L76.50 525.10L77.00 525.18L77.50 524.94L78.00 524.70L78.50 524.52L79.00 524.34L79.50 524.16L80.00 523.98L80.50 523.92L81.00 523.78L81.50 523.64L82.00 523.50L82.50 523.36L83.00 523.22L83.50 523.16L84.00 523.09L84.50 523.03L85.00 522.97L85.50 522.91L86.00 522.86L86.50 522.58L87.00 522.29L87.50 522.00L88.00 521.72L88.50 521.76L89.00 521.80L89.50 521.84L90.00 521.88L90.50 521.92L91.00 521.76L91.50 521.60L92.00 521.45L92.50 521.39L93.00 521.32L93.50 521.45L94.00 521.58L94.50 521.71L95.00 521.84L95.50 521.97L96.00 522.09L96.50 522.21L97.00 522.33L97.50 522.45L98.00 522.57L98.50 522.66L99.00 522.76L99.50 522.85L100.00 522.95L100.50 523.00L101.00 522.90L101.50 522.79L102.00 522.69L102.50 522.59L103.00 522.49L103.50 522.50L104.00 522.52L104.50 522.53L105.00 522.54L105.50 522.55L106.00 522.70L106.50 522.86L107.00 523.01L107.50 523.16L108.00 523.31L108.50 523.34L109.00 523.37L109.50 523.40L110.00 523.43L110.50 523.45L111.00 523.40L111.50 523.34L112.00 523.28L112.50 523.23L113.00 523.17L113.50 523.12L114.00 523.08L114.50 523.03L115.00 522.99L115.50 522.94L116.00 523.10L116.50 523.26L117.00 523.43L117.50 523.59L118.00 523.75L118.50 523.69L119.00 523.62L119.50 523.56L120.00 523.50L120.50 523.41L121.00 523.48L121.50 523.56L122.00 523.64L122.50 523.72L123.00 523.79L123.50 523.74L124.00 523.69L124.50 523.64L125.00 523.59L125.50 523.54L126.00 523.57L126.50 523.60L127.00 523.62L127.50 523.65L128.00 523.68L128.50 523.57L129.00 523.46L129.50 523.35L130.00 523.23L130.50 523.12L131.00 523.22L131.50 523.31L132.00 523.41L132.50 523.50L133.00 523.60L133.50 523.50L134.00 523.41L134.50 523.31L135.00 523.22L135.50 523.12L136.00 523.15L136.50 523.17L137.00 523.20L137.50 523.22L138.00 523.24L138.50 523.31L139.00 523.37L139.50 523.44L140.00 523.51L140.50 523.57L141.00 523.56L141.50 523.56L142.00 523.55L142.50 523.54L143.00 523.53L143.50 523.42L144.00 523.32L144.50 523.21L145.00 523.10L145.50 522.99L146.00 522.99L146.50 522.99L147.00 522.99L147.50 522.99L148.00 522.99L148.50 523.02L149.00 523.04L149.50 523.07L150.00 523.09L150.50 523.14L151.00 523.17L151.50 523.21L152.00 523.25L152.50 523.28L153.00 523.32L153.50 523.32L154.00 523.31L154.50 523.31L155.00 523.30L155.50 523.30L156.00 523.28L156.50 523.25L157.00 523.23L157.50 523.20L158.00 523.18L158.50 523.22L159.00 523.25L159.50 523.29L160.00 523.33L160.50 523.37L161.00 523.46L161.50 523.55L162.00 523.65L162.50 523.74L163.00 523.83L163.50 523.88L164.00 523.93L164.50 523.97L165.00 524.02L165.50 524.06L166.00 523.94L166.50 523.82L167.00 523.70L167.50 523.58L168.00 523.46L168.50 523.56L169.00 523.66L169.50 523.77L170.00 523.87L170.50 523.97L171.00 524.02L171.50 524.06L172.00 524.11L172.50 524.16L173.00 524.21L173.50 524.11L174.00 524.02L174.50 523.92L175.00 523.82L175.50 523.72L176.00 523.87L176.50 524.01L177.00 524.16L177.50 524.31L178.00 524.45L178.50 524.35L179.00 524.26L179.50 524.16L180.00 524.06L180.50 523.96L181.00 524.06L181.50 524.15L182.00 524.25L182.50 524.34L183.00 524.43L183.50 524.44L184.00 524.45L184.50 524.46L185.00 524.47L185.50 524.48L186.00 524.51L186.50 524.54L187.00 524.57L187.50 524.60L188.00 524.63L188.50 524.60L189.00 524.56L189.50 524.53L190.00 524.50L190.50 524.45L191.00 524.48L191.50 524.51L192.00 524.54L192.50 524.56L193.00 524.59L193.50 524.62L194.00 524.66L194.50 524.69L195.00 524.73L195.50 524.76L196.00 524.75L196.50 524.73L197.00 524.72L197.50 524.70L198.00 524.68L198.50 524.73L199.00 524.77L199.50 524.82L200.00 524.87L200.50 524.91L201.00 524.89L201.50 524.86L202.00 524.84L202.50 524.81L203.00 524.79L203.50 524.80L204.00 524.80L204.50 524.81L205.00 524.82L205.50 524.83L206.00 524.77L206.50 524.71L207.00 524.65L207.50 524.60L208.00 524.54L208.50 524.64L209.00 524.75L209.50 524.85L210.00 524.95L210.50 525.06L211.00 525.05L211.50 525.04L212.00 525.02L212.50 525.01L213.00 525.00L213.50 524.97L214.00 524.94L214.50 524.90L215.00 524.87L215.50 524.84L216.00 524.93L216.50 525.03L217.00 525.12L217.50 525.21L218.00 525.31L218.50 525.32L219.00 525.33L219.50 525.34L220.00 525.35L220.50 525.37L221.00 525.32L221.50 525.28L222.00 525.24L222.50 525.20L223.00 525.15L223.50 525.12L223.80 525.10L224.00 525.08L224.50 525.29L225.00 525.50L225.50 525.70L225.80 525.88L226.00 525.63L226.50 525.00L227.00 524.37L227.50 523.75L227.60 523.62L228.00 524.04L228.50 524.47L229.00 524.89L229.40 525.24L229.50 525.29L230.00 525.59L230.50 525.88L231.00 526.24L231.20 526.38L231.50 525.96L232.00 525.26L232.50 524.55L233.00 523.85L233.50 523.96L234.00 524.06L234.50 524.17L234.80 524.23L235.00 524.39L235.50 524.81L236.00 525.13L236.50 525.44L236.60 525.50L237.00 525.39L237.50 525.25L238.00 525.11L238.40 525.09L238.50 525.13L239.00 525.31L239.50 525.49L240.00 525.67L240.20 525.74L240.50 525.87L241.00 526.04L241.50 526.21L242.00 526.38L242.50 525.82L243.00 525.27L243.50 524.63L243.80 524.25L244.00 524.27L244.50 524.32L245.00 524.37L245.50 524.42L245.60 524.47L246.00 524.54L246.50 524.63L247.00 524.72L247.40 524.80L247.50 524.77L248.00 524.65L248.50 524.34L249.00 524.04L249.20 523.91L249.50 524.31L250.00 524.97L250.50 525.64L251.00 526.50L251.50 526.51L252.00 526.52L252.50 526.54L252.80 526.55L253.00 525.69L253.50 519.44L253.60 518.20L254.00 517.34L254.50 516.49L255.00 515.65L255.50 515.22L256.00 514.75L256.50 515.82L256.80 516.47L257.00 517.61L257.50 519.52L258.00 521.44L258.50 523.15L259.00 523.04L259.50 523.50L260.00 523.95L260.30 523.88L260.50 523.01L261.00 520.97L261.50 518.99L262.00 517.01L262.50 516.77L263.00 516.52L263.50 516.44L264.00 516.35L264.50 515.94L265.00 515.53L265.50 515.62L265.60 515.65L266.00 516.02L266.50 516.60L267.00 517.18L267.50 517.29L268.00 517.40L268.50 517.50L269.00 517.59L269.50 517.81L270.00 518.03L270.50 517.93L271.00 518.08L271.50 518.97L271.80 519.50L272.00 519.93L272.50 520.60L273.00 521.27L273.50 522.03L274.00 522.79L274.40 524.73L274.50 525.18L275.00 524.11L275.50 523.09L276.00 525.81L276.20 526.77L276.50 528.02L277.00 523.69L277.50 527.83L278.00 522.80L278.50 524.48L279.00 526.13L279.50 526.35L279.70 526.43L280.00 526.46L280.50 526.50L281.00 526.44L281.50 526.37L282.00 526.31L282.50 526.24L283.00 526.17L283.50 526.33L284.00 526.49L284.50 526.65L285.00 526.81L285.50 526.97L286.00 526.92L286.50 526.88L287.00 526.83L287.50 526.79L288.00 526.74L288.50 526.85L289.00 526.96L289.50 527.06L290.00 527.17L290.30 527.24L290.50 527.26L291.00 527.23L291.50 527.20L292.00 527.18L292.50 527.15L293.00 527.13L293.50 526.99L294.00 526.85L294.50 526.71L295.00 526.57L295.50 526.43L296.00 526.51L296.50 526.59L297.00 526.67L297.50 526.75L298.00 526.83L298.50 526.83L299.00 526.83L299.50 526.84L300.00 526.84L300.50 526.84L301.00 526.68L301.50 526.52L302.00 526.37L302.50 526.21L303.00 526.05L303.50 526.08L304.00 526.10L304.50 526.13L305.00 526.15L305.50 526.18L306.00 526.22L306.50 525.95L307.00 525.68L307.50 526.34L308.00 526.99L308.50 526.91L309.00 526.82L309.50 526.26L310.00 525.70L310.50 524.87L311.00 524.26L311.50 524.81L312.00 525.36L312.50 524.59L313.00 523.82L313.50 523.38L314.00 522.95L314.50 523.42L315.00 523.90L315.50 522.97L316.00 522.22L316.50 521.88L316.80 521.68L317.00 521.84L317.50 522.15L318.00 522.45L318.50 522.97L319.00 523.49L319.50 523.02L320.00 522.55L320.40 523.02L320.50 523.13L321.00 523.84L321.50 523.93L322.00 524.03L322.50 524.49L322.80 524.76L323.00 524.62L323.50 523.57L324.00 522.53L324.50 522.33L325.00 522.13L325.50 521.41L326.00 520.50L326.50 519.46L327.00 518.68L327.50 518.10L328.00 517.52L328.50 517.67L329.00 517.82L329.20 517.42L329.50 517.10L330.00 516.58L330.50 517.70L331.00 518.86L331.50 518.10L332.00 517.34L332.50 517.35L333.00 517.37L333.50 516.23L334.00 515.09L334.50 514.85L335.00 514.60L335.50 512.67L335.70 511.89L336.00 510.52L336.50 508.70L337.00 506.89L337.50 505.18L338.00 507.18L338.50 509.41L339.00 511.63L339.40 514.02L339.50 514.02L340.00 514.00L340.50 513.13L341.00 512.24L341.50 511.49L342.00 510.74L342.20 510.43L342.50 511.54L343.00 513.39L343.50 514.51L344.00 515.63L344.50 513.56L345.00 511.48L345.50 508.49L345.80 506.61L346.00 506.97L346.50 508.72L347.00 510.46L347.50 511.65L347.70 512.13L348.00 511.03L348.50 509.34L349.00 507.66L349.50 504.90L350.00 506.12L350.50 509.31L351.00 512.34L351.40 514.03L351.50 513.61L352.00 511.50L352.50 509.36L353.00 507.22L353.20 506.04L353.50 507.03L354.00 508.68L354.50 511.80L355.00 514.93L355.50 514.58L355.85 507.71L356.00 506.66L356.20 505.26L356.50 503.46L356.55 503.17L356.90 520.67L357.00 520.33L357.25 521.77L357.50 520.98L357.60 520.66L357.95 527.67L358.00 527.46L358.30 526.31L358.50 523.66L358.65 521.67L358.80 521.15L359.00 518.87L359.35 518.96L359.50 525.23L359.70 533.60L360.00 523.30L360.05 521.58L360.40 524.22L360.50 528.24L361.00 528.10L361.50 526.79L362.00 527.78L362.50 528.01L363.00 529.50L363.50 528.13L364.00 527.83L364.50 530.02L365.00 528.24L365.50 529.36L366.00 528.52L366.50 526.41L367.00 527.78L367.50 527.87L368.00 529.08L368.50 527.47L369.00 528.68L369.50 528.00L370.00 526.76L370.50 529.01L371.00 526.20L371.50 528.80L372.00 527.63L372.50 527.60L373.00 527.58L373.50 527.60L374.00 527.62L374.50 527.64L375.00 527.66L375.50 527.70L376.00 527.58L376.50 527.45L377.00 527.33L377.50 527.20L378.00 527.07L378.50 527.21L379.00 527.35L379.50 527.49L380.00 527.63L380.50 527.77L381.00 527.72L381.50 527.66L382.00 527.60L382.50 527.54L383.00 527.48L383.50 527.44L384.00 527.40L384.50 527.36L385.00 527.32L385.50 527.28L386.00 527.34L386.50 527.40L387.00 527.47L387.50 527.53L388.00 527.59L388.50 527.51L389.00 527.42L389.50 527.33L390.00 527.24L390.50 527.16L391.00 527.27L391.50 527.39L392.00 527.50L392.50 527.61L393.00 527.73L393.50 527.66L394.00 527.59L394.50 527.53L395.00 527.46L395.50 527.39L396.00 527.35L396.50 527.32L397.00 527.28L397.50 527.24L398.00 527.21L398.50 527.27L399.00 527.33L399.50 527.40L400.00 527.46L400.50 527.52L401.00 527.47L401.50 527.42L402.00 527.36L402.50 527.31L403.00 527.26L403.50 527.21L404.00 527.17L404.50 527.12L405.00 527.08L405.50 527.03L406.00 527.12L406.50 527.21L407.00 527.30L407.50 527.39L408.00 527.48L408.50 527.37L409.00 527.25L409.50 527.14L410.00 527.03L410.50 526.91L411.00 527.04L411.50 527.16L412.00 527.28L412.50 527.40L413.00 527.52L413.50 527.43L414.00 527.34L414.50 527.24L415.00 527.15L415.50 527.06L416.00 527.12L416.50 527.18L417.00 527.24L417.50 527.30L418.00 527.36L418.50 527.41L419.00 527.47L419.50 527.52L420.00 527.57L420.50 527.63L421.00 527.56L421.50 527.50L422.00 527.43L422.50 527.36L423.00 527.30L423.50 527.31L424.00 527.32L424.50 527.33L425.00 527.34L425.50 527.35L426.00 527.29L426.50 527.24L427.00 527.18L427.50 527.12L428.00 527.06L428.50 527.01L429.00 526.96L429.50 526.91L430.00 526.86L430.50 526.81L431.00 526.81L431.50 526.81L432.00 526.82L432.50 526.82L433.00 526.82L433.50 526.84L434.00 526.86L434.50 526.87L435.00 526.89L435.50 526.91L436.00 526.98L436.50 527.05L437.00 527.12L437.50 527.20L438.00 527.27L438.50 527.24L439.00 527.21L439.50 527.18L440.00 527.15L440.50 527.11L441.00 527.13L441.50 527.14L442.00 527.15L442.50 527.16L443.00 527.17L443.50 527.23L444.00 527.29L444.50 527.35L445.00 527.41L445.50 527.47L446.00 527.34L446.50 527.22L447.00 527.10L447.50 526.97L448.00 526.85L448.50 526.86L449.00 526.87L449.50 526.89L450.00 526.90L450.50 526.92L451.00 526.98L451.50 527.05L452.00 527.11L452.50 527.18L453.00 527.25L453.50 527.14L454.00 527.04L454.50 526.94L455.00 526.84L455.50 526.73L456.00 526.73L456.50 526.72L457.00 526.72L457.50 526.71L458.00 526.71L458.50 526.76L459.00 526.82L459.50 526.87L460.00 526.93L460.50 526.98L461.00 526.94L461.50 526.90L462.00 526.86L462.50 526.82L463.00 526.77L463.50 526.81L464.00 526.85L464.50 526.89L465.00 526.93L465.50 526.97L466.00 526.94L466.50 526.92L467.00 526.90L467.50 526.87L468.00 526.85L468.50 526.91L469.00 526.96L469.50 527.02L470.00 527.07L470.50 527.13L471.00 527.13L471.50 527.13L472.00 527.13L472.50 527.13L473.00 527.13L473.50 527.06L474.00 527.00L474.50 526.94L475.00 526.87L475.50 526.81L476.00 526.87L476.50 526.94L477.00 527.00L477.50 527.07L478.00 527.14L478.50 527.11L479.00 527.08L479.50 527.06L480.00 527.03L480.50 527.01L481.00 526.95L481.50 526.90L482.00 526.84L482.50 526.78L483.00 526.73L483.50 526.85L484.00 526.98L484.50 527.11L485.00 527.23L485.50 527.36L486.00 527.25L486.50 527.13L487.00 527.02L487.50 526.91L488.00 526.80L488.50 526.78L489.00 526.76L489.50 526.75L490.00 526.73L490.50 526.71L491.00 526.70L491.50 526.69L492.00 526.68L492.50 526.67L493.00 526.66L493.50 526.75L494.00 526.83L494.50 526.92L495.00 527.00L495.50 527.09L496.00 527.12L496.50 527.16L497.00 527.19L497.50 527.23L498.00 527.26L498.50 527.25L499.00 527.23L499.50 527.21L500.00 527.20L500.50 527.18L501.00 527.12L501.50 527.06L502.00 526.99L502.50 526.93L503.00 526.87L503.50 526.85L504.00 526.82L504.50 526.80L505.00 526.77L505.50 526.75L506.00 526.71L506.50 526.67L507.00 526.62L507.50 526.58L508.00 526.54L508.50 526.64L509.00 526.74L509.50 526.84L510.00 526.94L510.50 527.04L511.00 527.02L511.50 527.01L512.00 526.99L512.50 526.98L513.00 526.96L513.50 526.93L514.00 526.89L514.50 526.86L515.00 526.82L515.50 526.78L516.00 526.83L516.50 526.88L517.00 526.92L517.50 526.97L518.00 527.01L518.50 526.98L519.00 526.94L519.50 526.91L520.00 526.88L520.50 526.84L521.00 526.92L521.50 527.00L522.00 527.07L522.50 527.15L523.00 527.23L523.50 527.19L524.00 527.16L524.50 527.12L525.00 527.09L525.50 527.06L526.00 526.98L526.50 526.90L527.00 526.82L527.50 526.74L528.00 526.66L528.50 526.76L529.00 526.86L529.50 526.97L530.00 527.07L530.50 527.17L531.00 527.03L531.50 526.90L532.00 526.76L532.50 526.62L533.00 526.48L533.50 526.55L534.00 526.63L534.50 526.71L535.00 526.78L535.50 526.86L536.00 526.84L536.50 526.82L537.00 526.79L537.50 526.77L538.00 526.75L538.50 526.72L539.00 526.69L539.50 526.66L540.00 526.63L540.50 526.61L541.00 526.58L541.50 526.55L542.00 526.51L542.50 526.48L543.00 526.45L543.50 526.54L544.00 526.63L544.50 526.71L545.00 526.80" stroke="#2424cc" stroke-width="1.15" fill="none" stroke-linejoin="miter"/>
</g>
<text x="435.00" y="258.00" font-size="15" fill="#d42020" font-family="Liberation Sans, sans-serif">V<tspan font-size="10" dy="3">x</tspan></text>
<text x="473.80" y="258.00" font-size="15" fill="#2ccc2c" font-family="Liberation Sans, sans-serif">V<tspan font-size="10" dy="3">y</tspan></text>
<text x="512.40" y="258.00" font-size="15" fill="#3838d0" font-family="Liberation Sans, sans-serif">V<tspan font-size="10" dy="3">z</tspan></text>
<text x="434.20" y="370.80" font-size="15" fill="#d42020" font-family="Liberation Sans, sans-serif">T<tspan font-size="10" dy="4">||</tspan></text>
<text x="473.20" y="370.80" font-size="15" fill="#3838d0" font-family="Liberation Sans, sans-serif">T<tspan font-size="10" dy="4">&#8869;</tspan></text>
<text x="512.2" y="370.9" font-size="15" font-family="Liberation Sans, sans-serif">T</text>
<text x="395.6" y="483.8" font-size="15" font-family="Liberation Sans, sans-serif">|B|</text>
<text x="434.00" y="483.80" font-size="15" fill="#d42020" font-family="Liberation Sans, sans-serif">B<tspan font-size="10" dy="3">x</tspan></text>
<text x="473.00" y="483.80" font-size="15" fill="#2ccc2c" font-family="Liberation Sans, sans-serif">B<tspan font-size="10" dy="3">y</tspan></text>
<text x="511.40" y="483.80" font-size="15" fill="#3838d0" font-family="Liberation Sans, sans-serif">B<tspan font-size="10" dy="3">z</tspan></text>
<defs><linearGradient id="cb" x1="0" y1="0" x2="0" y2="1"><stop offset="0" stop-color="#ff0000"/><stop offset="0.10" stop-color="#ff1000"/><stop offset="0.153" stop-color="#ff5a00"/><stop offset="0.19" stop-color="#ff9600"/><stop offset="0.258" stop-color="#ffff00"/><stop offset="0.34" stop-color="#88ff00"/><stop offset="0.43" stop-color="#00ff00"/><stop offset="0.52" stop-color="#00ff60"/><stop offset="0.56" stop-color="#00ffa0"/><stop offset="0.645" stop-color="#00ffff"/><stop offset="0.715" stop-color="#0090ff"/><stop offset="0.825" stop-color="#0000ff"/><stop offset="0.893" stop-color="#2800d0"/><stop offset="0.96" stop-color="#40008a"/><stop offset="1" stop-color="#400080"/></linearGradient></defs>
<rect x="552.6" y="22.8" width="14.4" height="101.0" fill="url(#cb)" stroke="#333" stroke-width="1"/>
<text x="570.6" y="43.80" font-size="15" font-family="Liberation Sans, sans-serif">7</text>
<text x="570.6" y="68.80" font-size="15" font-family="Liberation Sans, sans-serif">6</text>
<text x="570.6" y="94.10" font-size="15" font-family="Liberation Sans, sans-serif">5</text>
<text x="570.6" y="119.50" font-size="15" font-family="Liberation Sans, sans-serif">4</text>
<text transform="translate(588.9,1.6) rotate(90)" font-size="11.3" font-family="Liberation Sans, sans-serif">log<tspan font-size="6.8" dy="2">10</tspan><tspan dy="-2">JE (KeVcm</tspan><tspan font-size="6.8" dy="-4.6">-2</tspan><tspan dy="4.6">s</tspan><tspan font-size="6.8" dy="-4.6">-1</tspan><tspan dy="4.6">sr</tspan><tspan font-size="6.8" dy="-4.6">-1</tspan><tspan dy="4.6">KeV</tspan><tspan font-size="6.8" dy="-4.6">-1</tspan><tspan dy="4.6">)</tspan></text>
</svg>
</body></html>
